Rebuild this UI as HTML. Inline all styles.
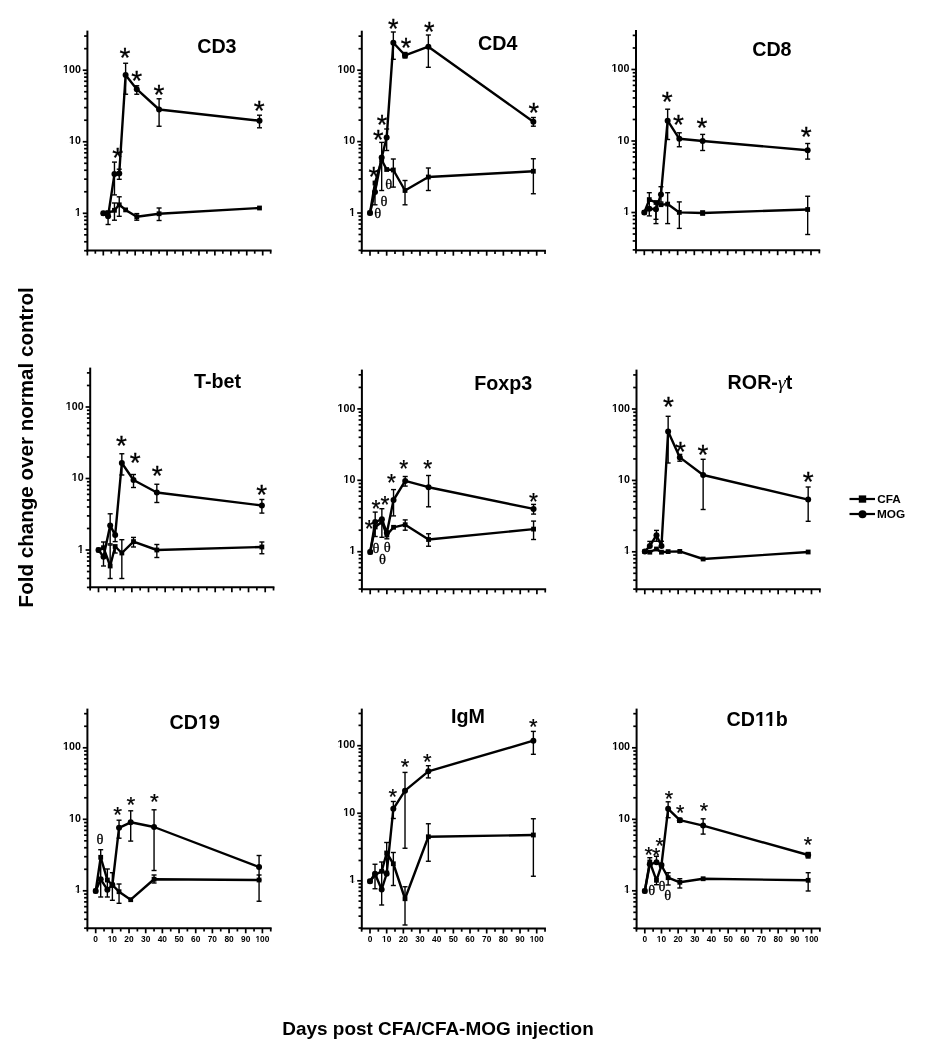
<!DOCTYPE html>
<html lang="en"><head><meta charset="utf-8"><title>Fold change over normal control</title><style>
html,body{margin:0;padding:0;background:#fff;}
#fig{position:relative;width:942px;height:1050px;overflow:hidden;background:#fff;filter:grayscale(1) blur(0.3px);}
#fig svg{position:absolute;left:0;top:0;}
#fig div{position:absolute;white-space:nowrap;font-family:'Liberation Sans',sans-serif;font-weight:bold;color:#000;}
</style></head>
<body><div id="fig"><svg width="942" height="1050" viewBox="0 0 942 1050"><g stroke="#000" fill="#000">
<line x1="87.40" y1="30.60" x2="87.40" y2="251.50" stroke-width="2.0"/>
<line x1="86.40" y1="250.50" x2="271.57" y2="250.50" stroke-width="2.0"/>
<line x1="84.10" y1="250.71" x2="87.40" y2="250.71" stroke-width="1.7"/>
<line x1="84.10" y1="241.77" x2="87.40" y2="241.77" stroke-width="1.7"/>
<line x1="84.10" y1="234.84" x2="87.40" y2="234.84" stroke-width="1.7"/>
<line x1="84.10" y1="229.17" x2="87.40" y2="229.17" stroke-width="1.7"/>
<line x1="84.10" y1="224.38" x2="87.40" y2="224.38" stroke-width="1.7"/>
<line x1="84.10" y1="220.23" x2="87.40" y2="220.23" stroke-width="1.7"/>
<line x1="84.10" y1="216.57" x2="87.40" y2="216.57" stroke-width="1.7"/>
<line x1="82.80" y1="213.30" x2="87.40" y2="213.30" stroke-width="1.7"/>
<line x1="84.10" y1="191.76" x2="87.40" y2="191.76" stroke-width="1.7"/>
<line x1="84.10" y1="179.16" x2="87.40" y2="179.16" stroke-width="1.7"/>
<line x1="84.10" y1="170.22" x2="87.40" y2="170.22" stroke-width="1.7"/>
<line x1="84.10" y1="163.29" x2="87.40" y2="163.29" stroke-width="1.7"/>
<line x1="84.10" y1="157.62" x2="87.40" y2="157.62" stroke-width="1.7"/>
<line x1="84.10" y1="152.83" x2="87.40" y2="152.83" stroke-width="1.7"/>
<line x1="84.10" y1="148.68" x2="87.40" y2="148.68" stroke-width="1.7"/>
<line x1="84.10" y1="145.02" x2="87.40" y2="145.02" stroke-width="1.7"/>
<line x1="82.80" y1="141.75" x2="87.40" y2="141.75" stroke-width="1.7"/>
<line x1="84.10" y1="120.21" x2="87.40" y2="120.21" stroke-width="1.7"/>
<line x1="84.10" y1="107.61" x2="87.40" y2="107.61" stroke-width="1.7"/>
<line x1="84.10" y1="98.67" x2="87.40" y2="98.67" stroke-width="1.7"/>
<line x1="84.10" y1="91.74" x2="87.40" y2="91.74" stroke-width="1.7"/>
<line x1="84.10" y1="86.07" x2="87.40" y2="86.07" stroke-width="1.7"/>
<line x1="84.10" y1="81.28" x2="87.40" y2="81.28" stroke-width="1.7"/>
<line x1="84.10" y1="77.13" x2="87.40" y2="77.13" stroke-width="1.7"/>
<line x1="84.10" y1="73.47" x2="87.40" y2="73.47" stroke-width="1.7"/>
<line x1="82.80" y1="70.20" x2="87.40" y2="70.20" stroke-width="1.7"/>
<line x1="84.10" y1="48.66" x2="87.40" y2="48.66" stroke-width="1.7"/>
<line x1="84.10" y1="36.06" x2="87.40" y2="36.06" stroke-width="1.7"/>
<line x1="87.36" y1="250.50" x2="87.36" y2="255.50" stroke-width="1.7"/>
<line x1="95.33" y1="250.50" x2="95.33" y2="253.70" stroke-width="1.7"/>
<line x1="103.30" y1="250.50" x2="103.30" y2="255.50" stroke-width="1.7"/>
<line x1="111.27" y1="250.50" x2="111.27" y2="253.70" stroke-width="1.7"/>
<line x1="119.24" y1="250.50" x2="119.24" y2="255.50" stroke-width="1.7"/>
<line x1="127.21" y1="250.50" x2="127.21" y2="253.70" stroke-width="1.7"/>
<line x1="135.18" y1="250.50" x2="135.18" y2="255.50" stroke-width="1.7"/>
<line x1="143.15" y1="250.50" x2="143.15" y2="253.70" stroke-width="1.7"/>
<line x1="151.12" y1="250.50" x2="151.12" y2="255.50" stroke-width="1.7"/>
<line x1="159.09" y1="250.50" x2="159.09" y2="253.70" stroke-width="1.7"/>
<line x1="167.06" y1="250.50" x2="167.06" y2="255.50" stroke-width="1.7"/>
<line x1="175.03" y1="250.50" x2="175.03" y2="253.70" stroke-width="1.7"/>
<line x1="183.00" y1="250.50" x2="183.00" y2="255.50" stroke-width="1.7"/>
<line x1="190.97" y1="250.50" x2="190.97" y2="253.70" stroke-width="1.7"/>
<line x1="198.94" y1="250.50" x2="198.94" y2="255.50" stroke-width="1.7"/>
<line x1="206.91" y1="250.50" x2="206.91" y2="253.70" stroke-width="1.7"/>
<line x1="214.88" y1="250.50" x2="214.88" y2="255.50" stroke-width="1.7"/>
<line x1="222.85" y1="250.50" x2="222.85" y2="253.70" stroke-width="1.7"/>
<line x1="230.82" y1="250.50" x2="230.82" y2="255.50" stroke-width="1.7"/>
<line x1="238.79" y1="250.50" x2="238.79" y2="253.70" stroke-width="1.7"/>
<line x1="246.76" y1="250.50" x2="246.76" y2="255.50" stroke-width="1.7"/>
<line x1="254.73" y1="250.50" x2="254.73" y2="253.70" stroke-width="1.7"/>
<line x1="262.70" y1="250.50" x2="262.70" y2="255.50" stroke-width="1.7"/>
<line x1="270.67" y1="250.50" x2="270.67" y2="253.70" stroke-width="1.7"/>
<line x1="361.80" y1="30.70" x2="361.80" y2="251.70" stroke-width="2.0"/>
<line x1="360.80" y1="250.70" x2="545.93" y2="250.70" stroke-width="2.0"/>
<line x1="358.50" y1="250.33" x2="361.80" y2="250.33" stroke-width="1.7"/>
<line x1="358.50" y1="241.41" x2="361.80" y2="241.41" stroke-width="1.7"/>
<line x1="358.50" y1="234.49" x2="361.80" y2="234.49" stroke-width="1.7"/>
<line x1="358.50" y1="228.84" x2="361.80" y2="228.84" stroke-width="1.7"/>
<line x1="358.50" y1="224.06" x2="361.80" y2="224.06" stroke-width="1.7"/>
<line x1="358.50" y1="219.92" x2="361.80" y2="219.92" stroke-width="1.7"/>
<line x1="358.50" y1="216.27" x2="361.80" y2="216.27" stroke-width="1.7"/>
<line x1="357.20" y1="213.00" x2="361.80" y2="213.00" stroke-width="1.7"/>
<line x1="358.50" y1="191.51" x2="361.80" y2="191.51" stroke-width="1.7"/>
<line x1="358.50" y1="178.93" x2="361.80" y2="178.93" stroke-width="1.7"/>
<line x1="358.50" y1="170.01" x2="361.80" y2="170.01" stroke-width="1.7"/>
<line x1="358.50" y1="163.09" x2="361.80" y2="163.09" stroke-width="1.7"/>
<line x1="358.50" y1="157.44" x2="361.80" y2="157.44" stroke-width="1.7"/>
<line x1="358.50" y1="152.66" x2="361.80" y2="152.66" stroke-width="1.7"/>
<line x1="358.50" y1="148.52" x2="361.80" y2="148.52" stroke-width="1.7"/>
<line x1="358.50" y1="144.87" x2="361.80" y2="144.87" stroke-width="1.7"/>
<line x1="357.20" y1="141.60" x2="361.80" y2="141.60" stroke-width="1.7"/>
<line x1="358.50" y1="120.11" x2="361.80" y2="120.11" stroke-width="1.7"/>
<line x1="358.50" y1="107.53" x2="361.80" y2="107.53" stroke-width="1.7"/>
<line x1="358.50" y1="98.61" x2="361.80" y2="98.61" stroke-width="1.7"/>
<line x1="358.50" y1="91.69" x2="361.80" y2="91.69" stroke-width="1.7"/>
<line x1="358.50" y1="86.04" x2="361.80" y2="86.04" stroke-width="1.7"/>
<line x1="358.50" y1="81.26" x2="361.80" y2="81.26" stroke-width="1.7"/>
<line x1="358.50" y1="77.12" x2="361.80" y2="77.12" stroke-width="1.7"/>
<line x1="358.50" y1="73.47" x2="361.80" y2="73.47" stroke-width="1.7"/>
<line x1="357.20" y1="70.20" x2="361.80" y2="70.20" stroke-width="1.7"/>
<line x1="358.50" y1="48.71" x2="361.80" y2="48.71" stroke-width="1.7"/>
<line x1="358.50" y1="36.13" x2="361.80" y2="36.13" stroke-width="1.7"/>
<line x1="361.67" y1="250.70" x2="361.67" y2="253.90" stroke-width="1.7"/>
<line x1="370.00" y1="250.70" x2="370.00" y2="255.70" stroke-width="1.7"/>
<line x1="378.33" y1="250.70" x2="378.33" y2="253.90" stroke-width="1.7"/>
<line x1="386.67" y1="250.70" x2="386.67" y2="255.70" stroke-width="1.7"/>
<line x1="395.00" y1="250.70" x2="395.00" y2="253.90" stroke-width="1.7"/>
<line x1="403.34" y1="250.70" x2="403.34" y2="255.70" stroke-width="1.7"/>
<line x1="411.68" y1="250.70" x2="411.68" y2="253.90" stroke-width="1.7"/>
<line x1="420.01" y1="250.70" x2="420.01" y2="255.70" stroke-width="1.7"/>
<line x1="428.35" y1="250.70" x2="428.35" y2="253.90" stroke-width="1.7"/>
<line x1="436.68" y1="250.70" x2="436.68" y2="255.70" stroke-width="1.7"/>
<line x1="445.01" y1="250.70" x2="445.01" y2="253.90" stroke-width="1.7"/>
<line x1="453.35" y1="250.70" x2="453.35" y2="255.70" stroke-width="1.7"/>
<line x1="461.69" y1="250.70" x2="461.69" y2="253.90" stroke-width="1.7"/>
<line x1="470.02" y1="250.70" x2="470.02" y2="255.70" stroke-width="1.7"/>
<line x1="478.36" y1="250.70" x2="478.36" y2="253.90" stroke-width="1.7"/>
<line x1="486.69" y1="250.70" x2="486.69" y2="255.70" stroke-width="1.7"/>
<line x1="495.02" y1="250.70" x2="495.02" y2="253.90" stroke-width="1.7"/>
<line x1="503.36" y1="250.70" x2="503.36" y2="255.70" stroke-width="1.7"/>
<line x1="511.69" y1="250.70" x2="511.69" y2="253.90" stroke-width="1.7"/>
<line x1="520.03" y1="250.70" x2="520.03" y2="255.70" stroke-width="1.7"/>
<line x1="528.37" y1="250.70" x2="528.37" y2="253.90" stroke-width="1.7"/>
<line x1="536.70" y1="250.70" x2="536.70" y2="255.70" stroke-width="1.7"/>
<line x1="545.03" y1="250.70" x2="545.03" y2="253.90" stroke-width="1.7"/>
<line x1="636.00" y1="30.10" x2="636.00" y2="251.20" stroke-width="2.0"/>
<line x1="635.00" y1="250.20" x2="820.23" y2="250.20" stroke-width="2.0"/>
<line x1="632.70" y1="249.89" x2="636.00" y2="249.89" stroke-width="1.7"/>
<line x1="632.70" y1="240.95" x2="636.00" y2="240.95" stroke-width="1.7"/>
<line x1="632.70" y1="234.02" x2="636.00" y2="234.02" stroke-width="1.7"/>
<line x1="632.70" y1="228.36" x2="636.00" y2="228.36" stroke-width="1.7"/>
<line x1="632.70" y1="223.58" x2="636.00" y2="223.58" stroke-width="1.7"/>
<line x1="632.70" y1="219.43" x2="636.00" y2="219.43" stroke-width="1.7"/>
<line x1="632.70" y1="215.77" x2="636.00" y2="215.77" stroke-width="1.7"/>
<line x1="631.40" y1="212.50" x2="636.00" y2="212.50" stroke-width="1.7"/>
<line x1="632.70" y1="190.98" x2="636.00" y2="190.98" stroke-width="1.7"/>
<line x1="632.70" y1="178.39" x2="636.00" y2="178.39" stroke-width="1.7"/>
<line x1="632.70" y1="169.45" x2="636.00" y2="169.45" stroke-width="1.7"/>
<line x1="632.70" y1="162.52" x2="636.00" y2="162.52" stroke-width="1.7"/>
<line x1="632.70" y1="156.86" x2="636.00" y2="156.86" stroke-width="1.7"/>
<line x1="632.70" y1="152.08" x2="636.00" y2="152.08" stroke-width="1.7"/>
<line x1="632.70" y1="147.93" x2="636.00" y2="147.93" stroke-width="1.7"/>
<line x1="632.70" y1="144.27" x2="636.00" y2="144.27" stroke-width="1.7"/>
<line x1="631.40" y1="141.00" x2="636.00" y2="141.00" stroke-width="1.7"/>
<line x1="632.70" y1="119.48" x2="636.00" y2="119.48" stroke-width="1.7"/>
<line x1="632.70" y1="106.89" x2="636.00" y2="106.89" stroke-width="1.7"/>
<line x1="632.70" y1="97.95" x2="636.00" y2="97.95" stroke-width="1.7"/>
<line x1="632.70" y1="91.02" x2="636.00" y2="91.02" stroke-width="1.7"/>
<line x1="632.70" y1="85.36" x2="636.00" y2="85.36" stroke-width="1.7"/>
<line x1="632.70" y1="80.58" x2="636.00" y2="80.58" stroke-width="1.7"/>
<line x1="632.70" y1="76.43" x2="636.00" y2="76.43" stroke-width="1.7"/>
<line x1="632.70" y1="72.77" x2="636.00" y2="72.77" stroke-width="1.7"/>
<line x1="631.40" y1="69.50" x2="636.00" y2="69.50" stroke-width="1.7"/>
<line x1="632.70" y1="47.98" x2="636.00" y2="47.98" stroke-width="1.7"/>
<line x1="632.70" y1="35.39" x2="636.00" y2="35.39" stroke-width="1.7"/>
<line x1="635.96" y1="250.20" x2="635.96" y2="253.40" stroke-width="1.7"/>
<line x1="644.30" y1="250.20" x2="644.30" y2="255.20" stroke-width="1.7"/>
<line x1="652.63" y1="250.20" x2="652.63" y2="253.40" stroke-width="1.7"/>
<line x1="660.97" y1="250.20" x2="660.97" y2="255.20" stroke-width="1.7"/>
<line x1="669.30" y1="250.20" x2="669.30" y2="253.40" stroke-width="1.7"/>
<line x1="677.64" y1="250.20" x2="677.64" y2="255.20" stroke-width="1.7"/>
<line x1="685.97" y1="250.20" x2="685.97" y2="253.40" stroke-width="1.7"/>
<line x1="694.31" y1="250.20" x2="694.31" y2="255.20" stroke-width="1.7"/>
<line x1="702.64" y1="250.20" x2="702.64" y2="253.40" stroke-width="1.7"/>
<line x1="710.98" y1="250.20" x2="710.98" y2="255.20" stroke-width="1.7"/>
<line x1="719.31" y1="250.20" x2="719.31" y2="253.40" stroke-width="1.7"/>
<line x1="727.65" y1="250.20" x2="727.65" y2="255.20" stroke-width="1.7"/>
<line x1="735.98" y1="250.20" x2="735.98" y2="253.40" stroke-width="1.7"/>
<line x1="744.32" y1="250.20" x2="744.32" y2="255.20" stroke-width="1.7"/>
<line x1="752.65" y1="250.20" x2="752.65" y2="253.40" stroke-width="1.7"/>
<line x1="760.99" y1="250.20" x2="760.99" y2="255.20" stroke-width="1.7"/>
<line x1="769.32" y1="250.20" x2="769.32" y2="253.40" stroke-width="1.7"/>
<line x1="777.66" y1="250.20" x2="777.66" y2="255.20" stroke-width="1.7"/>
<line x1="785.99" y1="250.20" x2="785.99" y2="253.40" stroke-width="1.7"/>
<line x1="794.33" y1="250.20" x2="794.33" y2="255.20" stroke-width="1.7"/>
<line x1="802.66" y1="250.20" x2="802.66" y2="253.40" stroke-width="1.7"/>
<line x1="811.00" y1="250.20" x2="811.00" y2="255.20" stroke-width="1.7"/>
<line x1="819.33" y1="250.20" x2="819.33" y2="253.40" stroke-width="1.7"/>
<line x1="90.20" y1="367.60" x2="90.20" y2="588.30" stroke-width="2.0"/>
<line x1="89.20" y1="587.30" x2="274.43" y2="587.30" stroke-width="2.0"/>
<line x1="86.90" y1="587.39" x2="90.20" y2="587.39" stroke-width="1.7"/>
<line x1="86.90" y1="578.45" x2="90.20" y2="578.45" stroke-width="1.7"/>
<line x1="86.90" y1="571.52" x2="90.20" y2="571.52" stroke-width="1.7"/>
<line x1="86.90" y1="565.86" x2="90.20" y2="565.86" stroke-width="1.7"/>
<line x1="86.90" y1="561.08" x2="90.20" y2="561.08" stroke-width="1.7"/>
<line x1="86.90" y1="556.93" x2="90.20" y2="556.93" stroke-width="1.7"/>
<line x1="86.90" y1="553.27" x2="90.20" y2="553.27" stroke-width="1.7"/>
<line x1="85.60" y1="550.00" x2="90.20" y2="550.00" stroke-width="1.7"/>
<line x1="86.90" y1="528.48" x2="90.20" y2="528.48" stroke-width="1.7"/>
<line x1="86.90" y1="515.89" x2="90.20" y2="515.89" stroke-width="1.7"/>
<line x1="86.90" y1="506.95" x2="90.20" y2="506.95" stroke-width="1.7"/>
<line x1="86.90" y1="500.02" x2="90.20" y2="500.02" stroke-width="1.7"/>
<line x1="86.90" y1="494.36" x2="90.20" y2="494.36" stroke-width="1.7"/>
<line x1="86.90" y1="489.58" x2="90.20" y2="489.58" stroke-width="1.7"/>
<line x1="86.90" y1="485.43" x2="90.20" y2="485.43" stroke-width="1.7"/>
<line x1="86.90" y1="481.77" x2="90.20" y2="481.77" stroke-width="1.7"/>
<line x1="85.60" y1="478.50" x2="90.20" y2="478.50" stroke-width="1.7"/>
<line x1="86.90" y1="456.98" x2="90.20" y2="456.98" stroke-width="1.7"/>
<line x1="86.90" y1="444.39" x2="90.20" y2="444.39" stroke-width="1.7"/>
<line x1="86.90" y1="435.45" x2="90.20" y2="435.45" stroke-width="1.7"/>
<line x1="86.90" y1="428.52" x2="90.20" y2="428.52" stroke-width="1.7"/>
<line x1="86.90" y1="422.86" x2="90.20" y2="422.86" stroke-width="1.7"/>
<line x1="86.90" y1="418.08" x2="90.20" y2="418.08" stroke-width="1.7"/>
<line x1="86.90" y1="413.93" x2="90.20" y2="413.93" stroke-width="1.7"/>
<line x1="86.90" y1="410.27" x2="90.20" y2="410.27" stroke-width="1.7"/>
<line x1="85.60" y1="407.00" x2="90.20" y2="407.00" stroke-width="1.7"/>
<line x1="86.90" y1="385.48" x2="90.20" y2="385.48" stroke-width="1.7"/>
<line x1="86.90" y1="372.89" x2="90.20" y2="372.89" stroke-width="1.7"/>
<line x1="90.16" y1="587.30" x2="90.16" y2="590.50" stroke-width="1.7"/>
<line x1="98.50" y1="587.30" x2="98.50" y2="592.30" stroke-width="1.7"/>
<line x1="106.84" y1="587.30" x2="106.84" y2="590.50" stroke-width="1.7"/>
<line x1="115.17" y1="587.30" x2="115.17" y2="592.30" stroke-width="1.7"/>
<line x1="123.50" y1="587.30" x2="123.50" y2="590.50" stroke-width="1.7"/>
<line x1="131.84" y1="587.30" x2="131.84" y2="592.30" stroke-width="1.7"/>
<line x1="140.18" y1="587.30" x2="140.18" y2="590.50" stroke-width="1.7"/>
<line x1="148.51" y1="587.30" x2="148.51" y2="592.30" stroke-width="1.7"/>
<line x1="156.84" y1="587.30" x2="156.84" y2="590.50" stroke-width="1.7"/>
<line x1="165.18" y1="587.30" x2="165.18" y2="592.30" stroke-width="1.7"/>
<line x1="173.51" y1="587.30" x2="173.51" y2="590.50" stroke-width="1.7"/>
<line x1="181.85" y1="587.30" x2="181.85" y2="592.30" stroke-width="1.7"/>
<line x1="190.19" y1="587.30" x2="190.19" y2="590.50" stroke-width="1.7"/>
<line x1="198.52" y1="587.30" x2="198.52" y2="592.30" stroke-width="1.7"/>
<line x1="206.86" y1="587.30" x2="206.86" y2="590.50" stroke-width="1.7"/>
<line x1="215.19" y1="587.30" x2="215.19" y2="592.30" stroke-width="1.7"/>
<line x1="223.53" y1="587.30" x2="223.53" y2="590.50" stroke-width="1.7"/>
<line x1="231.86" y1="587.30" x2="231.86" y2="592.30" stroke-width="1.7"/>
<line x1="240.19" y1="587.30" x2="240.19" y2="590.50" stroke-width="1.7"/>
<line x1="248.53" y1="587.30" x2="248.53" y2="592.30" stroke-width="1.7"/>
<line x1="256.87" y1="587.30" x2="256.87" y2="590.50" stroke-width="1.7"/>
<line x1="265.20" y1="587.30" x2="265.20" y2="592.30" stroke-width="1.7"/>
<line x1="273.53" y1="587.30" x2="273.53" y2="590.50" stroke-width="1.7"/>
<line x1="361.90" y1="369.60" x2="361.90" y2="590.30" stroke-width="2.0"/>
<line x1="360.90" y1="589.30" x2="546.13" y2="589.30" stroke-width="2.0"/>
<line x1="358.60" y1="589.03" x2="361.90" y2="589.03" stroke-width="1.7"/>
<line x1="358.60" y1="580.11" x2="361.90" y2="580.11" stroke-width="1.7"/>
<line x1="358.60" y1="573.19" x2="361.90" y2="573.19" stroke-width="1.7"/>
<line x1="358.60" y1="567.54" x2="361.90" y2="567.54" stroke-width="1.7"/>
<line x1="358.60" y1="562.76" x2="361.90" y2="562.76" stroke-width="1.7"/>
<line x1="358.60" y1="558.62" x2="361.90" y2="558.62" stroke-width="1.7"/>
<line x1="358.60" y1="554.97" x2="361.90" y2="554.97" stroke-width="1.7"/>
<line x1="357.30" y1="551.70" x2="361.90" y2="551.70" stroke-width="1.7"/>
<line x1="358.60" y1="530.21" x2="361.90" y2="530.21" stroke-width="1.7"/>
<line x1="358.60" y1="517.63" x2="361.90" y2="517.63" stroke-width="1.7"/>
<line x1="358.60" y1="508.71" x2="361.90" y2="508.71" stroke-width="1.7"/>
<line x1="358.60" y1="501.79" x2="361.90" y2="501.79" stroke-width="1.7"/>
<line x1="358.60" y1="496.14" x2="361.90" y2="496.14" stroke-width="1.7"/>
<line x1="358.60" y1="491.36" x2="361.90" y2="491.36" stroke-width="1.7"/>
<line x1="358.60" y1="487.22" x2="361.90" y2="487.22" stroke-width="1.7"/>
<line x1="358.60" y1="483.57" x2="361.90" y2="483.57" stroke-width="1.7"/>
<line x1="357.30" y1="480.30" x2="361.90" y2="480.30" stroke-width="1.7"/>
<line x1="358.60" y1="458.81" x2="361.90" y2="458.81" stroke-width="1.7"/>
<line x1="358.60" y1="446.23" x2="361.90" y2="446.23" stroke-width="1.7"/>
<line x1="358.60" y1="437.31" x2="361.90" y2="437.31" stroke-width="1.7"/>
<line x1="358.60" y1="430.39" x2="361.90" y2="430.39" stroke-width="1.7"/>
<line x1="358.60" y1="424.74" x2="361.90" y2="424.74" stroke-width="1.7"/>
<line x1="358.60" y1="419.96" x2="361.90" y2="419.96" stroke-width="1.7"/>
<line x1="358.60" y1="415.82" x2="361.90" y2="415.82" stroke-width="1.7"/>
<line x1="358.60" y1="412.17" x2="361.90" y2="412.17" stroke-width="1.7"/>
<line x1="357.30" y1="408.90" x2="361.90" y2="408.90" stroke-width="1.7"/>
<line x1="358.60" y1="387.41" x2="361.90" y2="387.41" stroke-width="1.7"/>
<line x1="358.60" y1="374.83" x2="361.90" y2="374.83" stroke-width="1.7"/>
<line x1="361.87" y1="589.30" x2="361.87" y2="592.50" stroke-width="1.7"/>
<line x1="370.20" y1="589.30" x2="370.20" y2="594.30" stroke-width="1.7"/>
<line x1="378.53" y1="589.30" x2="378.53" y2="592.50" stroke-width="1.7"/>
<line x1="386.87" y1="589.30" x2="386.87" y2="594.30" stroke-width="1.7"/>
<line x1="395.20" y1="589.30" x2="395.20" y2="592.50" stroke-width="1.7"/>
<line x1="403.54" y1="589.30" x2="403.54" y2="594.30" stroke-width="1.7"/>
<line x1="411.88" y1="589.30" x2="411.88" y2="592.50" stroke-width="1.7"/>
<line x1="420.21" y1="589.30" x2="420.21" y2="594.30" stroke-width="1.7"/>
<line x1="428.54" y1="589.30" x2="428.54" y2="592.50" stroke-width="1.7"/>
<line x1="436.88" y1="589.30" x2="436.88" y2="594.30" stroke-width="1.7"/>
<line x1="445.21" y1="589.30" x2="445.21" y2="592.50" stroke-width="1.7"/>
<line x1="453.55" y1="589.30" x2="453.55" y2="594.30" stroke-width="1.7"/>
<line x1="461.88" y1="589.30" x2="461.88" y2="592.50" stroke-width="1.7"/>
<line x1="470.22" y1="589.30" x2="470.22" y2="594.30" stroke-width="1.7"/>
<line x1="478.56" y1="589.30" x2="478.56" y2="592.50" stroke-width="1.7"/>
<line x1="486.89" y1="589.30" x2="486.89" y2="594.30" stroke-width="1.7"/>
<line x1="495.23" y1="589.30" x2="495.23" y2="592.50" stroke-width="1.7"/>
<line x1="503.56" y1="589.30" x2="503.56" y2="594.30" stroke-width="1.7"/>
<line x1="511.89" y1="589.30" x2="511.89" y2="592.50" stroke-width="1.7"/>
<line x1="520.23" y1="589.30" x2="520.23" y2="594.30" stroke-width="1.7"/>
<line x1="528.57" y1="589.30" x2="528.57" y2="592.50" stroke-width="1.7"/>
<line x1="536.90" y1="589.30" x2="536.90" y2="594.30" stroke-width="1.7"/>
<line x1="545.24" y1="589.30" x2="545.24" y2="592.50" stroke-width="1.7"/>
<line x1="636.50" y1="369.60" x2="636.50" y2="590.30" stroke-width="2.0"/>
<line x1="635.50" y1="589.30" x2="820.73" y2="589.30" stroke-width="2.0"/>
<line x1="633.20" y1="589.13" x2="636.50" y2="589.13" stroke-width="1.7"/>
<line x1="633.20" y1="580.21" x2="636.50" y2="580.21" stroke-width="1.7"/>
<line x1="633.20" y1="573.29" x2="636.50" y2="573.29" stroke-width="1.7"/>
<line x1="633.20" y1="567.64" x2="636.50" y2="567.64" stroke-width="1.7"/>
<line x1="633.20" y1="562.86" x2="636.50" y2="562.86" stroke-width="1.7"/>
<line x1="633.20" y1="558.72" x2="636.50" y2="558.72" stroke-width="1.7"/>
<line x1="633.20" y1="555.07" x2="636.50" y2="555.07" stroke-width="1.7"/>
<line x1="631.90" y1="551.80" x2="636.50" y2="551.80" stroke-width="1.7"/>
<line x1="633.20" y1="530.31" x2="636.50" y2="530.31" stroke-width="1.7"/>
<line x1="633.20" y1="517.73" x2="636.50" y2="517.73" stroke-width="1.7"/>
<line x1="633.20" y1="508.81" x2="636.50" y2="508.81" stroke-width="1.7"/>
<line x1="633.20" y1="501.89" x2="636.50" y2="501.89" stroke-width="1.7"/>
<line x1="633.20" y1="496.24" x2="636.50" y2="496.24" stroke-width="1.7"/>
<line x1="633.20" y1="491.46" x2="636.50" y2="491.46" stroke-width="1.7"/>
<line x1="633.20" y1="487.32" x2="636.50" y2="487.32" stroke-width="1.7"/>
<line x1="633.20" y1="483.67" x2="636.50" y2="483.67" stroke-width="1.7"/>
<line x1="631.90" y1="480.40" x2="636.50" y2="480.40" stroke-width="1.7"/>
<line x1="633.20" y1="458.91" x2="636.50" y2="458.91" stroke-width="1.7"/>
<line x1="633.20" y1="446.33" x2="636.50" y2="446.33" stroke-width="1.7"/>
<line x1="633.20" y1="437.41" x2="636.50" y2="437.41" stroke-width="1.7"/>
<line x1="633.20" y1="430.49" x2="636.50" y2="430.49" stroke-width="1.7"/>
<line x1="633.20" y1="424.84" x2="636.50" y2="424.84" stroke-width="1.7"/>
<line x1="633.20" y1="420.06" x2="636.50" y2="420.06" stroke-width="1.7"/>
<line x1="633.20" y1="415.92" x2="636.50" y2="415.92" stroke-width="1.7"/>
<line x1="633.20" y1="412.27" x2="636.50" y2="412.27" stroke-width="1.7"/>
<line x1="631.90" y1="409.00" x2="636.50" y2="409.00" stroke-width="1.7"/>
<line x1="633.20" y1="387.51" x2="636.50" y2="387.51" stroke-width="1.7"/>
<line x1="633.20" y1="374.93" x2="636.50" y2="374.93" stroke-width="1.7"/>
<line x1="636.46" y1="589.30" x2="636.46" y2="592.50" stroke-width="1.7"/>
<line x1="644.80" y1="589.30" x2="644.80" y2="594.30" stroke-width="1.7"/>
<line x1="653.13" y1="589.30" x2="653.13" y2="592.50" stroke-width="1.7"/>
<line x1="661.47" y1="589.30" x2="661.47" y2="594.30" stroke-width="1.7"/>
<line x1="669.80" y1="589.30" x2="669.80" y2="592.50" stroke-width="1.7"/>
<line x1="678.14" y1="589.30" x2="678.14" y2="594.30" stroke-width="1.7"/>
<line x1="686.47" y1="589.30" x2="686.47" y2="592.50" stroke-width="1.7"/>
<line x1="694.81" y1="589.30" x2="694.81" y2="594.30" stroke-width="1.7"/>
<line x1="703.14" y1="589.30" x2="703.14" y2="592.50" stroke-width="1.7"/>
<line x1="711.48" y1="589.30" x2="711.48" y2="594.30" stroke-width="1.7"/>
<line x1="719.81" y1="589.30" x2="719.81" y2="592.50" stroke-width="1.7"/>
<line x1="728.15" y1="589.30" x2="728.15" y2="594.30" stroke-width="1.7"/>
<line x1="736.48" y1="589.30" x2="736.48" y2="592.50" stroke-width="1.7"/>
<line x1="744.82" y1="589.30" x2="744.82" y2="594.30" stroke-width="1.7"/>
<line x1="753.15" y1="589.30" x2="753.15" y2="592.50" stroke-width="1.7"/>
<line x1="761.49" y1="589.30" x2="761.49" y2="594.30" stroke-width="1.7"/>
<line x1="769.82" y1="589.30" x2="769.82" y2="592.50" stroke-width="1.7"/>
<line x1="778.16" y1="589.30" x2="778.16" y2="594.30" stroke-width="1.7"/>
<line x1="786.49" y1="589.30" x2="786.49" y2="592.50" stroke-width="1.7"/>
<line x1="794.83" y1="589.30" x2="794.83" y2="594.30" stroke-width="1.7"/>
<line x1="803.16" y1="589.30" x2="803.16" y2="592.50" stroke-width="1.7"/>
<line x1="811.50" y1="589.30" x2="811.50" y2="594.30" stroke-width="1.7"/>
<line x1="819.83" y1="589.30" x2="819.83" y2="592.50" stroke-width="1.7"/>
<line x1="87.40" y1="708.60" x2="87.40" y2="929.30" stroke-width="2.0"/>
<line x1="86.40" y1="928.30" x2="271.63" y2="928.30" stroke-width="2.0"/>
<line x1="84.10" y1="928.19" x2="87.40" y2="928.19" stroke-width="1.7"/>
<line x1="84.10" y1="919.25" x2="87.40" y2="919.25" stroke-width="1.7"/>
<line x1="84.10" y1="912.32" x2="87.40" y2="912.32" stroke-width="1.7"/>
<line x1="84.10" y1="906.66" x2="87.40" y2="906.66" stroke-width="1.7"/>
<line x1="84.10" y1="901.88" x2="87.40" y2="901.88" stroke-width="1.7"/>
<line x1="84.10" y1="897.73" x2="87.40" y2="897.73" stroke-width="1.7"/>
<line x1="84.10" y1="894.07" x2="87.40" y2="894.07" stroke-width="1.7"/>
<line x1="82.80" y1="890.80" x2="87.40" y2="890.80" stroke-width="1.7"/>
<line x1="84.10" y1="869.28" x2="87.40" y2="869.28" stroke-width="1.7"/>
<line x1="84.10" y1="856.69" x2="87.40" y2="856.69" stroke-width="1.7"/>
<line x1="84.10" y1="847.75" x2="87.40" y2="847.75" stroke-width="1.7"/>
<line x1="84.10" y1="840.82" x2="87.40" y2="840.82" stroke-width="1.7"/>
<line x1="84.10" y1="835.16" x2="87.40" y2="835.16" stroke-width="1.7"/>
<line x1="84.10" y1="830.38" x2="87.40" y2="830.38" stroke-width="1.7"/>
<line x1="84.10" y1="826.23" x2="87.40" y2="826.23" stroke-width="1.7"/>
<line x1="84.10" y1="822.57" x2="87.40" y2="822.57" stroke-width="1.7"/>
<line x1="82.80" y1="819.30" x2="87.40" y2="819.30" stroke-width="1.7"/>
<line x1="84.10" y1="797.78" x2="87.40" y2="797.78" stroke-width="1.7"/>
<line x1="84.10" y1="785.19" x2="87.40" y2="785.19" stroke-width="1.7"/>
<line x1="84.10" y1="776.25" x2="87.40" y2="776.25" stroke-width="1.7"/>
<line x1="84.10" y1="769.32" x2="87.40" y2="769.32" stroke-width="1.7"/>
<line x1="84.10" y1="763.66" x2="87.40" y2="763.66" stroke-width="1.7"/>
<line x1="84.10" y1="758.88" x2="87.40" y2="758.88" stroke-width="1.7"/>
<line x1="84.10" y1="754.73" x2="87.40" y2="754.73" stroke-width="1.7"/>
<line x1="84.10" y1="751.07" x2="87.40" y2="751.07" stroke-width="1.7"/>
<line x1="82.80" y1="747.80" x2="87.40" y2="747.80" stroke-width="1.7"/>
<line x1="84.10" y1="726.28" x2="87.40" y2="726.28" stroke-width="1.7"/>
<line x1="84.10" y1="713.69" x2="87.40" y2="713.69" stroke-width="1.7"/>
<line x1="87.37" y1="928.30" x2="87.37" y2="931.50" stroke-width="1.7"/>
<line x1="95.70" y1="928.30" x2="95.70" y2="933.30" stroke-width="1.7"/>
<line x1="104.03" y1="928.30" x2="104.03" y2="931.50" stroke-width="1.7"/>
<line x1="112.37" y1="928.30" x2="112.37" y2="933.30" stroke-width="1.7"/>
<line x1="120.70" y1="928.30" x2="120.70" y2="931.50" stroke-width="1.7"/>
<line x1="129.04" y1="928.30" x2="129.04" y2="933.30" stroke-width="1.7"/>
<line x1="137.38" y1="928.30" x2="137.38" y2="931.50" stroke-width="1.7"/>
<line x1="145.71" y1="928.30" x2="145.71" y2="933.30" stroke-width="1.7"/>
<line x1="154.05" y1="928.30" x2="154.05" y2="931.50" stroke-width="1.7"/>
<line x1="162.38" y1="928.30" x2="162.38" y2="933.30" stroke-width="1.7"/>
<line x1="170.72" y1="928.30" x2="170.72" y2="931.50" stroke-width="1.7"/>
<line x1="179.05" y1="928.30" x2="179.05" y2="933.30" stroke-width="1.7"/>
<line x1="187.38" y1="928.30" x2="187.38" y2="931.50" stroke-width="1.7"/>
<line x1="195.72" y1="928.30" x2="195.72" y2="933.30" stroke-width="1.7"/>
<line x1="204.06" y1="928.30" x2="204.06" y2="931.50" stroke-width="1.7"/>
<line x1="212.39" y1="928.30" x2="212.39" y2="933.30" stroke-width="1.7"/>
<line x1="220.73" y1="928.30" x2="220.73" y2="931.50" stroke-width="1.7"/>
<line x1="229.06" y1="928.30" x2="229.06" y2="933.30" stroke-width="1.7"/>
<line x1="237.39" y1="928.30" x2="237.39" y2="931.50" stroke-width="1.7"/>
<line x1="245.73" y1="928.30" x2="245.73" y2="933.30" stroke-width="1.7"/>
<line x1="254.06" y1="928.30" x2="254.06" y2="931.50" stroke-width="1.7"/>
<line x1="262.40" y1="928.30" x2="262.40" y2="933.30" stroke-width="1.7"/>
<line x1="270.74" y1="928.30" x2="270.74" y2="931.50" stroke-width="1.7"/>
<line x1="361.80" y1="708.60" x2="361.80" y2="929.50" stroke-width="2.0"/>
<line x1="360.80" y1="928.50" x2="545.93" y2="928.50" stroke-width="2.0"/>
<line x1="358.50" y1="928.02" x2="361.80" y2="928.02" stroke-width="1.7"/>
<line x1="358.50" y1="916.12" x2="361.80" y2="916.12" stroke-width="1.7"/>
<line x1="358.50" y1="907.68" x2="361.80" y2="907.68" stroke-width="1.7"/>
<line x1="358.50" y1="901.13" x2="361.80" y2="901.13" stroke-width="1.7"/>
<line x1="358.50" y1="895.79" x2="361.80" y2="895.79" stroke-width="1.7"/>
<line x1="358.50" y1="891.26" x2="361.80" y2="891.26" stroke-width="1.7"/>
<line x1="358.50" y1="887.35" x2="361.80" y2="887.35" stroke-width="1.7"/>
<line x1="358.50" y1="883.89" x2="361.80" y2="883.89" stroke-width="1.7"/>
<line x1="357.20" y1="880.80" x2="361.80" y2="880.80" stroke-width="1.7"/>
<line x1="358.50" y1="860.47" x2="361.80" y2="860.47" stroke-width="1.7"/>
<line x1="358.50" y1="848.57" x2="361.80" y2="848.57" stroke-width="1.7"/>
<line x1="358.50" y1="840.13" x2="361.80" y2="840.13" stroke-width="1.7"/>
<line x1="358.50" y1="833.58" x2="361.80" y2="833.58" stroke-width="1.7"/>
<line x1="358.50" y1="828.24" x2="361.80" y2="828.24" stroke-width="1.7"/>
<line x1="358.50" y1="823.71" x2="361.80" y2="823.71" stroke-width="1.7"/>
<line x1="358.50" y1="819.80" x2="361.80" y2="819.80" stroke-width="1.7"/>
<line x1="358.50" y1="816.34" x2="361.80" y2="816.34" stroke-width="1.7"/>
<line x1="357.20" y1="813.25" x2="361.80" y2="813.25" stroke-width="1.7"/>
<line x1="358.50" y1="792.92" x2="361.80" y2="792.92" stroke-width="1.7"/>
<line x1="358.50" y1="781.02" x2="361.80" y2="781.02" stroke-width="1.7"/>
<line x1="358.50" y1="772.58" x2="361.80" y2="772.58" stroke-width="1.7"/>
<line x1="358.50" y1="766.03" x2="361.80" y2="766.03" stroke-width="1.7"/>
<line x1="358.50" y1="760.69" x2="361.80" y2="760.69" stroke-width="1.7"/>
<line x1="358.50" y1="756.16" x2="361.80" y2="756.16" stroke-width="1.7"/>
<line x1="358.50" y1="752.25" x2="361.80" y2="752.25" stroke-width="1.7"/>
<line x1="358.50" y1="748.79" x2="361.80" y2="748.79" stroke-width="1.7"/>
<line x1="357.20" y1="745.70" x2="361.80" y2="745.70" stroke-width="1.7"/>
<line x1="358.50" y1="725.37" x2="361.80" y2="725.37" stroke-width="1.7"/>
<line x1="358.50" y1="713.47" x2="361.80" y2="713.47" stroke-width="1.7"/>
<line x1="361.67" y1="928.50" x2="361.67" y2="931.70" stroke-width="1.7"/>
<line x1="370.00" y1="928.50" x2="370.00" y2="933.50" stroke-width="1.7"/>
<line x1="378.33" y1="928.50" x2="378.33" y2="931.70" stroke-width="1.7"/>
<line x1="386.67" y1="928.50" x2="386.67" y2="933.50" stroke-width="1.7"/>
<line x1="395.00" y1="928.50" x2="395.00" y2="931.70" stroke-width="1.7"/>
<line x1="403.34" y1="928.50" x2="403.34" y2="933.50" stroke-width="1.7"/>
<line x1="411.68" y1="928.50" x2="411.68" y2="931.70" stroke-width="1.7"/>
<line x1="420.01" y1="928.50" x2="420.01" y2="933.50" stroke-width="1.7"/>
<line x1="428.35" y1="928.50" x2="428.35" y2="931.70" stroke-width="1.7"/>
<line x1="436.68" y1="928.50" x2="436.68" y2="933.50" stroke-width="1.7"/>
<line x1="445.01" y1="928.50" x2="445.01" y2="931.70" stroke-width="1.7"/>
<line x1="453.35" y1="928.50" x2="453.35" y2="933.50" stroke-width="1.7"/>
<line x1="461.69" y1="928.50" x2="461.69" y2="931.70" stroke-width="1.7"/>
<line x1="470.02" y1="928.50" x2="470.02" y2="933.50" stroke-width="1.7"/>
<line x1="478.36" y1="928.50" x2="478.36" y2="931.70" stroke-width="1.7"/>
<line x1="486.69" y1="928.50" x2="486.69" y2="933.50" stroke-width="1.7"/>
<line x1="495.02" y1="928.50" x2="495.02" y2="931.70" stroke-width="1.7"/>
<line x1="503.36" y1="928.50" x2="503.36" y2="933.50" stroke-width="1.7"/>
<line x1="511.69" y1="928.50" x2="511.69" y2="931.70" stroke-width="1.7"/>
<line x1="520.03" y1="928.50" x2="520.03" y2="933.50" stroke-width="1.7"/>
<line x1="528.37" y1="928.50" x2="528.37" y2="931.70" stroke-width="1.7"/>
<line x1="536.70" y1="928.50" x2="536.70" y2="933.50" stroke-width="1.7"/>
<line x1="545.03" y1="928.50" x2="545.03" y2="931.70" stroke-width="1.7"/>
<line x1="636.60" y1="708.60" x2="636.60" y2="929.50" stroke-width="2.0"/>
<line x1="635.60" y1="928.50" x2="820.73" y2="928.50" stroke-width="2.0"/>
<line x1="633.30" y1="928.19" x2="636.60" y2="928.19" stroke-width="1.7"/>
<line x1="633.30" y1="919.25" x2="636.60" y2="919.25" stroke-width="1.7"/>
<line x1="633.30" y1="912.32" x2="636.60" y2="912.32" stroke-width="1.7"/>
<line x1="633.30" y1="906.66" x2="636.60" y2="906.66" stroke-width="1.7"/>
<line x1="633.30" y1="901.88" x2="636.60" y2="901.88" stroke-width="1.7"/>
<line x1="633.30" y1="897.73" x2="636.60" y2="897.73" stroke-width="1.7"/>
<line x1="633.30" y1="894.07" x2="636.60" y2="894.07" stroke-width="1.7"/>
<line x1="632.00" y1="890.80" x2="636.60" y2="890.80" stroke-width="1.7"/>
<line x1="633.30" y1="869.28" x2="636.60" y2="869.28" stroke-width="1.7"/>
<line x1="633.30" y1="856.69" x2="636.60" y2="856.69" stroke-width="1.7"/>
<line x1="633.30" y1="847.75" x2="636.60" y2="847.75" stroke-width="1.7"/>
<line x1="633.30" y1="840.82" x2="636.60" y2="840.82" stroke-width="1.7"/>
<line x1="633.30" y1="835.16" x2="636.60" y2="835.16" stroke-width="1.7"/>
<line x1="633.30" y1="830.38" x2="636.60" y2="830.38" stroke-width="1.7"/>
<line x1="633.30" y1="826.23" x2="636.60" y2="826.23" stroke-width="1.7"/>
<line x1="633.30" y1="822.57" x2="636.60" y2="822.57" stroke-width="1.7"/>
<line x1="632.00" y1="819.30" x2="636.60" y2="819.30" stroke-width="1.7"/>
<line x1="633.30" y1="797.78" x2="636.60" y2="797.78" stroke-width="1.7"/>
<line x1="633.30" y1="785.19" x2="636.60" y2="785.19" stroke-width="1.7"/>
<line x1="633.30" y1="776.25" x2="636.60" y2="776.25" stroke-width="1.7"/>
<line x1="633.30" y1="769.32" x2="636.60" y2="769.32" stroke-width="1.7"/>
<line x1="633.30" y1="763.66" x2="636.60" y2="763.66" stroke-width="1.7"/>
<line x1="633.30" y1="758.88" x2="636.60" y2="758.88" stroke-width="1.7"/>
<line x1="633.30" y1="754.73" x2="636.60" y2="754.73" stroke-width="1.7"/>
<line x1="633.30" y1="751.07" x2="636.60" y2="751.07" stroke-width="1.7"/>
<line x1="632.00" y1="747.80" x2="636.60" y2="747.80" stroke-width="1.7"/>
<line x1="633.30" y1="726.28" x2="636.60" y2="726.28" stroke-width="1.7"/>
<line x1="633.30" y1="713.69" x2="636.60" y2="713.69" stroke-width="1.7"/>
<line x1="636.46" y1="928.50" x2="636.46" y2="931.70" stroke-width="1.7"/>
<line x1="644.80" y1="928.50" x2="644.80" y2="933.50" stroke-width="1.7"/>
<line x1="653.13" y1="928.50" x2="653.13" y2="931.70" stroke-width="1.7"/>
<line x1="661.47" y1="928.50" x2="661.47" y2="933.50" stroke-width="1.7"/>
<line x1="669.80" y1="928.50" x2="669.80" y2="931.70" stroke-width="1.7"/>
<line x1="678.14" y1="928.50" x2="678.14" y2="933.50" stroke-width="1.7"/>
<line x1="686.47" y1="928.50" x2="686.47" y2="931.70" stroke-width="1.7"/>
<line x1="694.81" y1="928.50" x2="694.81" y2="933.50" stroke-width="1.7"/>
<line x1="703.14" y1="928.50" x2="703.14" y2="931.70" stroke-width="1.7"/>
<line x1="711.48" y1="928.50" x2="711.48" y2="933.50" stroke-width="1.7"/>
<line x1="719.81" y1="928.50" x2="719.81" y2="931.70" stroke-width="1.7"/>
<line x1="728.15" y1="928.50" x2="728.15" y2="933.50" stroke-width="1.7"/>
<line x1="736.48" y1="928.50" x2="736.48" y2="931.70" stroke-width="1.7"/>
<line x1="744.82" y1="928.50" x2="744.82" y2="933.50" stroke-width="1.7"/>
<line x1="753.15" y1="928.50" x2="753.15" y2="931.70" stroke-width="1.7"/>
<line x1="761.49" y1="928.50" x2="761.49" y2="933.50" stroke-width="1.7"/>
<line x1="769.82" y1="928.50" x2="769.82" y2="931.70" stroke-width="1.7"/>
<line x1="778.16" y1="928.50" x2="778.16" y2="933.50" stroke-width="1.7"/>
<line x1="786.49" y1="928.50" x2="786.49" y2="931.70" stroke-width="1.7"/>
<line x1="794.83" y1="928.50" x2="794.83" y2="933.50" stroke-width="1.7"/>
<line x1="803.16" y1="928.50" x2="803.16" y2="931.70" stroke-width="1.7"/>
<line x1="811.50" y1="928.50" x2="811.50" y2="933.50" stroke-width="1.7"/>
<line x1="819.83" y1="928.50" x2="819.83" y2="931.70" stroke-width="1.7"/>
<line x1="114.46" y1="210.30" x2="114.46" y2="203.00" stroke-width="1.4"/>
<line x1="111.96" y1="203.00" x2="116.96" y2="203.00" stroke-width="1.4"/>
<line x1="114.46" y1="210.30" x2="114.46" y2="220.20" stroke-width="1.4"/>
<line x1="111.96" y1="220.20" x2="116.96" y2="220.20" stroke-width="1.4"/>
<line x1="119.24" y1="204.80" x2="119.24" y2="196.80" stroke-width="1.4"/>
<line x1="116.74" y1="196.80" x2="121.74" y2="196.80" stroke-width="1.4"/>
<line x1="119.24" y1="204.80" x2="119.24" y2="216.30" stroke-width="1.4"/>
<line x1="116.74" y1="216.30" x2="121.74" y2="216.30" stroke-width="1.4"/>
<line x1="136.77" y1="216.80" x2="136.77" y2="213.60" stroke-width="1.4"/>
<line x1="134.27" y1="213.60" x2="139.27" y2="213.60" stroke-width="1.4"/>
<line x1="136.77" y1="216.80" x2="136.77" y2="220.20" stroke-width="1.4"/>
<line x1="134.27" y1="220.20" x2="139.27" y2="220.20" stroke-width="1.4"/>
<line x1="159.09" y1="213.75" x2="159.09" y2="208.00" stroke-width="1.4"/>
<line x1="156.59" y1="208.00" x2="161.59" y2="208.00" stroke-width="1.4"/>
<line x1="159.09" y1="213.75" x2="159.09" y2="220.50" stroke-width="1.4"/>
<line x1="156.59" y1="220.50" x2="161.59" y2="220.50" stroke-width="1.4"/>
<polyline fill="none" stroke-width="2.4" stroke-linejoin="round" points="103.30,213.30 108.08,213.00 114.46,210.30 119.24,204.80 125.62,209.90 136.77,216.80 159.09,213.75 259.51,208.00"/>
<rect x="100.90" y="210.90" width="4.8" height="4.8" stroke="none"/>
<rect x="105.68" y="210.60" width="4.8" height="4.8" stroke="none"/>
<rect x="112.06" y="207.90" width="4.8" height="4.8" stroke="none"/>
<rect x="116.84" y="202.40" width="4.8" height="4.8" stroke="none"/>
<rect x="123.22" y="207.50" width="4.8" height="4.8" stroke="none"/>
<rect x="134.37" y="214.40" width="4.8" height="4.8" stroke="none"/>
<rect x="156.69" y="211.35" width="4.8" height="4.8" stroke="none"/>
<rect x="257.11" y="205.60" width="4.8" height="4.8" stroke="none"/>
<line x1="108.08" y1="216.30" x2="108.08" y2="211.00" stroke-width="1.4"/>
<line x1="105.58" y1="211.00" x2="110.58" y2="211.00" stroke-width="1.4"/>
<line x1="108.08" y1="216.30" x2="108.08" y2="224.50" stroke-width="1.4"/>
<line x1="105.58" y1="224.50" x2="110.58" y2="224.50" stroke-width="1.4"/>
<line x1="114.46" y1="174.10" x2="114.46" y2="162.10" stroke-width="1.4"/>
<line x1="111.96" y1="162.10" x2="116.96" y2="162.10" stroke-width="1.4"/>
<line x1="114.46" y1="174.10" x2="114.46" y2="194.90" stroke-width="1.4"/>
<line x1="111.96" y1="194.90" x2="116.96" y2="194.90" stroke-width="1.4"/>
<line x1="119.24" y1="173.60" x2="119.24" y2="169.20" stroke-width="1.4"/>
<line x1="116.74" y1="169.20" x2="121.74" y2="169.20" stroke-width="1.4"/>
<line x1="119.24" y1="173.60" x2="119.24" y2="179.30" stroke-width="1.4"/>
<line x1="116.74" y1="179.30" x2="121.74" y2="179.30" stroke-width="1.4"/>
<line x1="125.62" y1="75.00" x2="125.62" y2="63.25" stroke-width="1.4"/>
<line x1="123.12" y1="63.25" x2="128.12" y2="63.25" stroke-width="1.4"/>
<line x1="125.62" y1="75.00" x2="125.62" y2="94.25" stroke-width="1.4"/>
<line x1="123.12" y1="94.25" x2="128.12" y2="94.25" stroke-width="1.4"/>
<line x1="136.77" y1="89.20" x2="136.77" y2="85.75" stroke-width="1.4"/>
<line x1="134.27" y1="85.75" x2="139.27" y2="85.75" stroke-width="1.4"/>
<line x1="136.77" y1="89.20" x2="136.77" y2="94.25" stroke-width="1.4"/>
<line x1="134.27" y1="94.25" x2="139.27" y2="94.25" stroke-width="1.4"/>
<line x1="159.09" y1="109.50" x2="159.09" y2="98.75" stroke-width="1.4"/>
<line x1="156.59" y1="98.75" x2="161.59" y2="98.75" stroke-width="1.4"/>
<line x1="159.09" y1="109.50" x2="159.09" y2="126.25" stroke-width="1.4"/>
<line x1="156.59" y1="126.25" x2="161.59" y2="126.25" stroke-width="1.4"/>
<line x1="259.51" y1="120.70" x2="259.51" y2="115.20" stroke-width="1.4"/>
<line x1="257.01" y1="115.20" x2="262.01" y2="115.20" stroke-width="1.4"/>
<line x1="259.51" y1="120.70" x2="259.51" y2="127.80" stroke-width="1.4"/>
<line x1="257.01" y1="127.80" x2="262.01" y2="127.80" stroke-width="1.4"/>
<polyline fill="none" stroke-width="2.4" stroke-linejoin="round" points="103.30,213.30 108.08,216.30 114.46,174.10 119.24,173.60 125.62,75.00 136.77,89.20 159.09,109.50 259.51,120.70"/>
<circle cx="103.30" cy="213.30" r="3.0" stroke="none"/>
<circle cx="108.08" cy="216.30" r="3.0" stroke="none"/>
<circle cx="114.46" cy="174.10" r="3.0" stroke="none"/>
<circle cx="119.24" cy="173.60" r="3.0" stroke="none"/>
<circle cx="125.62" cy="75.00" r="3.0" stroke="none"/>
<circle cx="136.77" cy="89.20" r="3.0" stroke="none"/>
<circle cx="159.09" cy="109.50" r="3.0" stroke="none"/>
<circle cx="259.51" cy="120.70" r="3.0" stroke="none"/>
<line x1="381.67" y1="160.00" x2="381.67" y2="142.40" stroke-width="1.4"/>
<line x1="379.17" y1="142.40" x2="384.17" y2="142.40" stroke-width="1.4"/>
<line x1="381.67" y1="160.00" x2="381.67" y2="190.50" stroke-width="1.4"/>
<line x1="379.17" y1="190.50" x2="384.17" y2="190.50" stroke-width="1.4"/>
<line x1="393.34" y1="170.00" x2="393.34" y2="159.00" stroke-width="1.4"/>
<line x1="390.84" y1="159.00" x2="395.84" y2="159.00" stroke-width="1.4"/>
<line x1="393.34" y1="170.00" x2="393.34" y2="187.10" stroke-width="1.4"/>
<line x1="390.84" y1="187.10" x2="395.84" y2="187.10" stroke-width="1.4"/>
<line x1="405.01" y1="190.50" x2="405.01" y2="180.50" stroke-width="1.4"/>
<line x1="402.51" y1="180.50" x2="407.51" y2="180.50" stroke-width="1.4"/>
<line x1="405.01" y1="190.50" x2="405.01" y2="204.80" stroke-width="1.4"/>
<line x1="402.51" y1="204.80" x2="407.51" y2="204.80" stroke-width="1.4"/>
<line x1="428.35" y1="177.00" x2="428.35" y2="168.00" stroke-width="1.4"/>
<line x1="425.85" y1="168.00" x2="430.85" y2="168.00" stroke-width="1.4"/>
<line x1="428.35" y1="177.00" x2="428.35" y2="190.50" stroke-width="1.4"/>
<line x1="425.85" y1="190.50" x2="430.85" y2="190.50" stroke-width="1.4"/>
<line x1="533.37" y1="171.25" x2="533.37" y2="158.75" stroke-width="1.4"/>
<line x1="530.87" y1="158.75" x2="535.87" y2="158.75" stroke-width="1.4"/>
<line x1="533.37" y1="171.25" x2="533.37" y2="193.75" stroke-width="1.4"/>
<line x1="530.87" y1="193.75" x2="535.87" y2="193.75" stroke-width="1.4"/>
<polyline fill="none" stroke-width="2.4" stroke-linejoin="round" points="370.00,212.90 375.00,183.00 381.67,160.00 386.67,169.50 393.34,170.00 405.01,190.50 428.35,177.00 533.37,171.25"/>
<rect x="367.60" y="210.50" width="4.8" height="4.8" stroke="none"/>
<rect x="372.60" y="180.60" width="4.8" height="4.8" stroke="none"/>
<rect x="379.27" y="157.60" width="4.8" height="4.8" stroke="none"/>
<rect x="384.27" y="167.10" width="4.8" height="4.8" stroke="none"/>
<rect x="390.94" y="167.60" width="4.8" height="4.8" stroke="none"/>
<rect x="402.61" y="188.10" width="4.8" height="4.8" stroke="none"/>
<rect x="425.95" y="174.60" width="4.8" height="4.8" stroke="none"/>
<rect x="530.97" y="168.85" width="4.8" height="4.8" stroke="none"/>
<line x1="375.00" y1="191.90" x2="375.00" y2="204.80" stroke-width="1.4"/>
<line x1="372.50" y1="204.80" x2="377.50" y2="204.80" stroke-width="1.4"/>
<line x1="386.67" y1="137.60" x2="386.67" y2="129.00" stroke-width="1.4"/>
<line x1="384.17" y1="129.00" x2="389.17" y2="129.00" stroke-width="1.4"/>
<line x1="386.67" y1="137.60" x2="386.67" y2="150.50" stroke-width="1.4"/>
<line x1="384.17" y1="150.50" x2="389.17" y2="150.50" stroke-width="1.4"/>
<line x1="393.34" y1="42.70" x2="393.34" y2="32.00" stroke-width="1.4"/>
<line x1="390.84" y1="32.00" x2="395.84" y2="32.00" stroke-width="1.4"/>
<line x1="393.34" y1="42.70" x2="393.34" y2="59.30" stroke-width="1.4"/>
<line x1="390.84" y1="59.30" x2="395.84" y2="59.30" stroke-width="1.4"/>
<line x1="405.01" y1="55.30" x2="405.01" y2="52.50" stroke-width="1.4"/>
<line x1="402.51" y1="52.50" x2="407.51" y2="52.50" stroke-width="1.4"/>
<line x1="405.01" y1="55.30" x2="405.01" y2="58.00" stroke-width="1.4"/>
<line x1="402.51" y1="58.00" x2="407.51" y2="58.00" stroke-width="1.4"/>
<line x1="428.35" y1="46.70" x2="428.35" y2="35.00" stroke-width="1.4"/>
<line x1="425.85" y1="35.00" x2="430.85" y2="35.00" stroke-width="1.4"/>
<line x1="428.35" y1="46.70" x2="428.35" y2="67.30" stroke-width="1.4"/>
<line x1="425.85" y1="67.30" x2="430.85" y2="67.30" stroke-width="1.4"/>
<line x1="533.37" y1="121.70" x2="533.37" y2="117.50" stroke-width="1.4"/>
<line x1="530.87" y1="117.50" x2="535.87" y2="117.50" stroke-width="1.4"/>
<line x1="533.37" y1="121.70" x2="533.37" y2="126.20" stroke-width="1.4"/>
<line x1="530.87" y1="126.20" x2="535.87" y2="126.20" stroke-width="1.4"/>
<polyline fill="none" stroke-width="2.4" stroke-linejoin="round" points="370.00,212.90 375.00,191.90 381.67,157.60 386.67,137.60 393.34,42.70 405.01,55.30 428.35,46.70 533.37,121.70"/>
<circle cx="370.00" cy="212.90" r="3.0" stroke="none"/>
<circle cx="375.00" cy="191.90" r="3.0" stroke="none"/>
<circle cx="381.67" cy="157.60" r="3.0" stroke="none"/>
<circle cx="386.67" cy="137.60" r="3.0" stroke="none"/>
<circle cx="393.34" cy="42.70" r="3.0" stroke="none"/>
<circle cx="405.01" cy="55.30" r="3.0" stroke="none"/>
<circle cx="428.35" cy="46.70" r="3.0" stroke="none"/>
<circle cx="533.37" cy="121.70" r="3.0" stroke="none"/>
<rect x="402.40" y="52.70" width="5.2" height="5.2" stroke="none"/>
<line x1="649.30" y1="199.60" x2="649.30" y2="192.70" stroke-width="1.4"/>
<line x1="646.80" y1="192.70" x2="651.80" y2="192.70" stroke-width="1.4"/>
<line x1="649.30" y1="199.60" x2="649.30" y2="215.90" stroke-width="1.4"/>
<line x1="646.80" y1="215.90" x2="651.80" y2="215.90" stroke-width="1.4"/>
<line x1="655.97" y1="202.50" x2="655.97" y2="223.60" stroke-width="1.4"/>
<line x1="653.47" y1="223.60" x2="658.47" y2="223.60" stroke-width="1.4"/>
<line x1="667.64" y1="204.10" x2="667.64" y2="192.70" stroke-width="1.4"/>
<line x1="665.14" y1="192.70" x2="670.14" y2="192.70" stroke-width="1.4"/>
<line x1="667.64" y1="204.10" x2="667.64" y2="223.60" stroke-width="1.4"/>
<line x1="665.14" y1="223.60" x2="670.14" y2="223.60" stroke-width="1.4"/>
<line x1="679.31" y1="212.40" x2="679.31" y2="201.90" stroke-width="1.4"/>
<line x1="676.81" y1="201.90" x2="681.81" y2="201.90" stroke-width="1.4"/>
<line x1="679.31" y1="212.40" x2="679.31" y2="228.40" stroke-width="1.4"/>
<line x1="676.81" y1="228.40" x2="681.81" y2="228.40" stroke-width="1.4"/>
<line x1="702.64" y1="213.00" x2="702.64" y2="211.00" stroke-width="1.4"/>
<line x1="700.14" y1="211.00" x2="705.14" y2="211.00" stroke-width="1.4"/>
<line x1="702.64" y1="213.00" x2="702.64" y2="215.00" stroke-width="1.4"/>
<line x1="700.14" y1="215.00" x2="705.14" y2="215.00" stroke-width="1.4"/>
<line x1="807.67" y1="209.50" x2="807.67" y2="196.25" stroke-width="1.4"/>
<line x1="805.17" y1="196.25" x2="810.17" y2="196.25" stroke-width="1.4"/>
<line x1="807.67" y1="209.50" x2="807.67" y2="234.50" stroke-width="1.4"/>
<line x1="805.17" y1="234.50" x2="810.17" y2="234.50" stroke-width="1.4"/>
<polyline fill="none" stroke-width="2.4" stroke-linejoin="round" points="644.30,212.40 649.30,199.60 655.97,202.50 660.97,204.70 667.64,204.10 679.31,212.40 702.64,213.00 807.67,209.50"/>
<rect x="641.90" y="210.00" width="4.8" height="4.8" stroke="none"/>
<rect x="646.90" y="197.20" width="4.8" height="4.8" stroke="none"/>
<rect x="653.57" y="200.10" width="4.8" height="4.8" stroke="none"/>
<rect x="658.57" y="202.30" width="4.8" height="4.8" stroke="none"/>
<rect x="665.24" y="201.70" width="4.8" height="4.8" stroke="none"/>
<rect x="676.91" y="210.00" width="4.8" height="4.8" stroke="none"/>
<rect x="700.25" y="210.60" width="4.8" height="4.8" stroke="none"/>
<rect x="805.27" y="207.10" width="4.8" height="4.8" stroke="none"/>
<line x1="655.97" y1="209.30" x2="655.97" y2="219.30" stroke-width="1.4"/>
<line x1="653.47" y1="219.30" x2="658.47" y2="219.30" stroke-width="1.4"/>
<line x1="660.97" y1="194.40" x2="660.97" y2="186.70" stroke-width="1.4"/>
<line x1="658.47" y1="186.70" x2="663.47" y2="186.70" stroke-width="1.4"/>
<line x1="660.97" y1="194.40" x2="660.97" y2="202.00" stroke-width="1.4"/>
<line x1="658.47" y1="202.00" x2="663.47" y2="202.00" stroke-width="1.4"/>
<line x1="667.64" y1="120.70" x2="667.64" y2="109.20" stroke-width="1.4"/>
<line x1="665.14" y1="109.20" x2="670.14" y2="109.20" stroke-width="1.4"/>
<line x1="667.64" y1="120.70" x2="667.64" y2="139.50" stroke-width="1.4"/>
<line x1="665.14" y1="139.50" x2="670.14" y2="139.50" stroke-width="1.4"/>
<line x1="679.31" y1="138.80" x2="679.31" y2="132.80" stroke-width="1.4"/>
<line x1="676.81" y1="132.80" x2="681.81" y2="132.80" stroke-width="1.4"/>
<line x1="679.31" y1="138.80" x2="679.31" y2="146.75" stroke-width="1.4"/>
<line x1="676.81" y1="146.75" x2="681.81" y2="146.75" stroke-width="1.4"/>
<line x1="702.64" y1="141.05" x2="702.64" y2="134.40" stroke-width="1.4"/>
<line x1="700.14" y1="134.40" x2="705.14" y2="134.40" stroke-width="1.4"/>
<line x1="702.64" y1="141.05" x2="702.64" y2="150.50" stroke-width="1.4"/>
<line x1="700.14" y1="150.50" x2="705.14" y2="150.50" stroke-width="1.4"/>
<line x1="807.67" y1="150.20" x2="807.67" y2="143.50" stroke-width="1.4"/>
<line x1="805.17" y1="143.50" x2="810.17" y2="143.50" stroke-width="1.4"/>
<line x1="807.67" y1="150.20" x2="807.67" y2="159.10" stroke-width="1.4"/>
<line x1="805.17" y1="159.10" x2="810.17" y2="159.10" stroke-width="1.4"/>
<polyline fill="none" stroke-width="2.4" stroke-linejoin="round" points="644.30,212.40 649.30,208.70 655.97,209.30 660.97,194.40 667.64,120.70 679.31,138.80 702.64,141.05 807.67,150.20"/>
<circle cx="644.30" cy="212.40" r="3.0" stroke="none"/>
<circle cx="649.30" cy="208.70" r="3.0" stroke="none"/>
<circle cx="655.97" cy="209.30" r="3.0" stroke="none"/>
<circle cx="660.97" cy="194.40" r="3.0" stroke="none"/>
<circle cx="667.64" cy="120.70" r="3.0" stroke="none"/>
<circle cx="679.31" cy="138.80" r="3.0" stroke="none"/>
<circle cx="702.64" cy="141.05" r="3.0" stroke="none"/>
<circle cx="807.67" cy="150.20" r="3.0" stroke="none"/>
<line x1="103.50" y1="547.70" x2="103.50" y2="542.00" stroke-width="1.4"/>
<line x1="101.00" y1="542.00" x2="106.00" y2="542.00" stroke-width="1.4"/>
<line x1="110.17" y1="566.00" x2="110.17" y2="545.00" stroke-width="1.4"/>
<line x1="107.67" y1="545.00" x2="112.67" y2="545.00" stroke-width="1.4"/>
<line x1="110.17" y1="566.00" x2="110.17" y2="578.50" stroke-width="1.4"/>
<line x1="107.67" y1="578.50" x2="112.67" y2="578.50" stroke-width="1.4"/>
<line x1="115.17" y1="546.50" x2="115.17" y2="553.00" stroke-width="1.4"/>
<line x1="112.67" y1="553.00" x2="117.67" y2="553.00" stroke-width="1.4"/>
<line x1="121.84" y1="553.00" x2="121.84" y2="539.70" stroke-width="1.4"/>
<line x1="119.34" y1="539.70" x2="124.34" y2="539.70" stroke-width="1.4"/>
<line x1="121.84" y1="553.00" x2="121.84" y2="578.50" stroke-width="1.4"/>
<line x1="119.34" y1="578.50" x2="124.34" y2="578.50" stroke-width="1.4"/>
<line x1="133.51" y1="541.60" x2="133.51" y2="537.40" stroke-width="1.4"/>
<line x1="131.01" y1="537.40" x2="136.01" y2="537.40" stroke-width="1.4"/>
<line x1="133.51" y1="541.60" x2="133.51" y2="547.00" stroke-width="1.4"/>
<line x1="131.01" y1="547.00" x2="136.01" y2="547.00" stroke-width="1.4"/>
<line x1="156.84" y1="550.00" x2="156.84" y2="544.50" stroke-width="1.4"/>
<line x1="154.34" y1="544.50" x2="159.34" y2="544.50" stroke-width="1.4"/>
<line x1="156.84" y1="550.00" x2="156.84" y2="557.50" stroke-width="1.4"/>
<line x1="154.34" y1="557.50" x2="159.34" y2="557.50" stroke-width="1.4"/>
<line x1="261.87" y1="547.00" x2="261.87" y2="542.00" stroke-width="1.4"/>
<line x1="259.37" y1="542.00" x2="264.37" y2="542.00" stroke-width="1.4"/>
<line x1="261.87" y1="547.00" x2="261.87" y2="553.75" stroke-width="1.4"/>
<line x1="259.37" y1="553.75" x2="264.37" y2="553.75" stroke-width="1.4"/>
<polyline fill="none" stroke-width="2.4" stroke-linejoin="round" points="98.50,550.00 103.50,547.70 110.17,566.00 115.17,546.50 121.84,553.00 133.51,541.60 156.84,550.00 261.87,547.00"/>
<rect x="96.10" y="547.60" width="4.8" height="4.8" stroke="none"/>
<rect x="101.10" y="545.30" width="4.8" height="4.8" stroke="none"/>
<rect x="107.77" y="563.60" width="4.8" height="4.8" stroke="none"/>
<rect x="112.77" y="544.10" width="4.8" height="4.8" stroke="none"/>
<rect x="119.44" y="550.60" width="4.8" height="4.8" stroke="none"/>
<rect x="131.11" y="539.20" width="4.8" height="4.8" stroke="none"/>
<rect x="154.44" y="547.60" width="4.8" height="4.8" stroke="none"/>
<rect x="259.47" y="544.60" width="4.8" height="4.8" stroke="none"/>
<line x1="103.50" y1="556.80" x2="103.50" y2="566.00" stroke-width="1.4"/>
<line x1="101.00" y1="566.00" x2="106.00" y2="566.00" stroke-width="1.4"/>
<line x1="110.17" y1="525.40" x2="110.17" y2="513.80" stroke-width="1.4"/>
<line x1="107.67" y1="513.80" x2="112.67" y2="513.80" stroke-width="1.4"/>
<line x1="110.17" y1="525.40" x2="110.17" y2="543.90" stroke-width="1.4"/>
<line x1="107.67" y1="543.90" x2="112.67" y2="543.90" stroke-width="1.4"/>
<line x1="115.17" y1="535.10" x2="115.17" y2="541.60" stroke-width="1.4"/>
<line x1="112.67" y1="541.60" x2="117.67" y2="541.60" stroke-width="1.4"/>
<line x1="121.84" y1="463.00" x2="121.84" y2="453.75" stroke-width="1.4"/>
<line x1="119.34" y1="453.75" x2="124.34" y2="453.75" stroke-width="1.4"/>
<line x1="121.84" y1="463.00" x2="121.84" y2="475.00" stroke-width="1.4"/>
<line x1="119.34" y1="475.00" x2="124.34" y2="475.00" stroke-width="1.4"/>
<line x1="133.51" y1="480.00" x2="133.51" y2="474.50" stroke-width="1.4"/>
<line x1="131.01" y1="474.50" x2="136.01" y2="474.50" stroke-width="1.4"/>
<line x1="133.51" y1="480.00" x2="133.51" y2="487.50" stroke-width="1.4"/>
<line x1="131.01" y1="487.50" x2="136.01" y2="487.50" stroke-width="1.4"/>
<line x1="156.84" y1="492.50" x2="156.84" y2="484.25" stroke-width="1.4"/>
<line x1="154.34" y1="484.25" x2="159.34" y2="484.25" stroke-width="1.4"/>
<line x1="156.84" y1="492.50" x2="156.84" y2="502.50" stroke-width="1.4"/>
<line x1="154.34" y1="502.50" x2="159.34" y2="502.50" stroke-width="1.4"/>
<line x1="261.87" y1="505.50" x2="261.87" y2="499.50" stroke-width="1.4"/>
<line x1="259.37" y1="499.50" x2="264.37" y2="499.50" stroke-width="1.4"/>
<line x1="261.87" y1="505.50" x2="261.87" y2="513.10" stroke-width="1.4"/>
<line x1="259.37" y1="513.10" x2="264.37" y2="513.10" stroke-width="1.4"/>
<polyline fill="none" stroke-width="2.4" stroke-linejoin="round" points="98.50,550.00 103.50,556.80 110.17,525.40 115.17,535.10 121.84,463.00 133.51,480.00 156.84,492.50 261.87,505.50"/>
<circle cx="98.50" cy="550.00" r="3.0" stroke="none"/>
<circle cx="103.50" cy="556.80" r="3.0" stroke="none"/>
<circle cx="110.17" cy="525.40" r="3.0" stroke="none"/>
<circle cx="115.17" cy="535.10" r="3.0" stroke="none"/>
<circle cx="121.84" cy="463.00" r="3.0" stroke="none"/>
<circle cx="133.51" cy="480.00" r="3.0" stroke="none"/>
<circle cx="156.84" cy="492.50" r="3.0" stroke="none"/>
<circle cx="261.87" cy="505.50" r="3.0" stroke="none"/>
<line x1="405.21" y1="524.70" x2="405.21" y2="519.90" stroke-width="1.4"/>
<line x1="402.71" y1="519.90" x2="407.71" y2="519.90" stroke-width="1.4"/>
<line x1="405.21" y1="524.70" x2="405.21" y2="530.20" stroke-width="1.4"/>
<line x1="402.71" y1="530.20" x2="407.71" y2="530.20" stroke-width="1.4"/>
<line x1="428.54" y1="539.50" x2="428.54" y2="533.75" stroke-width="1.4"/>
<line x1="426.04" y1="533.75" x2="431.04" y2="533.75" stroke-width="1.4"/>
<line x1="428.54" y1="539.50" x2="428.54" y2="546.25" stroke-width="1.4"/>
<line x1="426.04" y1="546.25" x2="431.04" y2="546.25" stroke-width="1.4"/>
<line x1="533.57" y1="529.10" x2="533.57" y2="521.10" stroke-width="1.4"/>
<line x1="531.07" y1="521.10" x2="536.07" y2="521.10" stroke-width="1.4"/>
<line x1="533.57" y1="529.10" x2="533.57" y2="539.50" stroke-width="1.4"/>
<line x1="531.07" y1="539.50" x2="536.07" y2="539.50" stroke-width="1.4"/>
<polyline fill="none" stroke-width="2.4" stroke-linejoin="round" points="370.20,552.10 375.20,527.00 381.87,522.00 386.87,535.00 393.54,527.30 405.21,524.70 428.54,539.50 533.57,529.10"/>
<rect x="367.80" y="549.70" width="4.8" height="4.8" stroke="none"/>
<rect x="372.80" y="524.60" width="4.8" height="4.8" stroke="none"/>
<rect x="379.47" y="519.60" width="4.8" height="4.8" stroke="none"/>
<rect x="384.47" y="532.60" width="4.8" height="4.8" stroke="none"/>
<rect x="391.14" y="524.90" width="4.8" height="4.8" stroke="none"/>
<rect x="402.81" y="522.30" width="4.8" height="4.8" stroke="none"/>
<rect x="426.14" y="537.10" width="4.8" height="4.8" stroke="none"/>
<rect x="531.17" y="526.70" width="4.8" height="4.8" stroke="none"/>
<line x1="375.20" y1="522.00" x2="375.20" y2="512.10" stroke-width="1.4"/>
<line x1="372.70" y1="512.10" x2="377.70" y2="512.10" stroke-width="1.4"/>
<line x1="375.20" y1="522.00" x2="375.20" y2="536.50" stroke-width="1.4"/>
<line x1="372.70" y1="536.50" x2="377.70" y2="536.50" stroke-width="1.4"/>
<line x1="381.87" y1="519.30" x2="381.87" y2="508.70" stroke-width="1.4"/>
<line x1="379.37" y1="508.70" x2="384.37" y2="508.70" stroke-width="1.4"/>
<line x1="381.87" y1="519.30" x2="381.87" y2="537.30" stroke-width="1.4"/>
<line x1="379.37" y1="537.30" x2="384.37" y2="537.30" stroke-width="1.4"/>
<line x1="386.87" y1="532.70" x2="386.87" y2="538.80" stroke-width="1.4"/>
<line x1="384.37" y1="538.80" x2="389.37" y2="538.80" stroke-width="1.4"/>
<line x1="393.54" y1="500.00" x2="393.54" y2="489.60" stroke-width="1.4"/>
<line x1="391.04" y1="489.60" x2="396.04" y2="489.60" stroke-width="1.4"/>
<line x1="393.54" y1="500.00" x2="393.54" y2="515.90" stroke-width="1.4"/>
<line x1="391.04" y1="515.90" x2="396.04" y2="515.90" stroke-width="1.4"/>
<line x1="405.21" y1="480.90" x2="405.21" y2="476.50" stroke-width="1.4"/>
<line x1="402.71" y1="476.50" x2="407.71" y2="476.50" stroke-width="1.4"/>
<line x1="405.21" y1="480.90" x2="405.21" y2="486.10" stroke-width="1.4"/>
<line x1="402.71" y1="486.10" x2="407.71" y2="486.10" stroke-width="1.4"/>
<line x1="428.54" y1="487.20" x2="428.54" y2="475.50" stroke-width="1.4"/>
<line x1="426.04" y1="475.50" x2="431.04" y2="475.50" stroke-width="1.4"/>
<line x1="428.54" y1="487.20" x2="428.54" y2="506.80" stroke-width="1.4"/>
<line x1="426.04" y1="506.80" x2="431.04" y2="506.80" stroke-width="1.4"/>
<line x1="533.57" y1="508.90" x2="533.57" y2="504.40" stroke-width="1.4"/>
<line x1="531.07" y1="504.40" x2="536.07" y2="504.40" stroke-width="1.4"/>
<line x1="533.57" y1="508.90" x2="533.57" y2="514.10" stroke-width="1.4"/>
<line x1="531.07" y1="514.10" x2="536.07" y2="514.10" stroke-width="1.4"/>
<polyline fill="none" stroke-width="2.4" stroke-linejoin="round" points="370.20,552.10 375.20,522.00 381.87,519.30 386.87,532.70 393.54,500.00 405.21,480.90 428.54,487.20 533.57,508.90"/>
<circle cx="370.20" cy="552.10" r="3.0" stroke="none"/>
<circle cx="375.20" cy="522.00" r="3.0" stroke="none"/>
<circle cx="381.87" cy="519.30" r="3.0" stroke="none"/>
<circle cx="386.87" cy="532.70" r="3.0" stroke="none"/>
<circle cx="393.54" cy="500.00" r="3.0" stroke="none"/>
<circle cx="405.21" cy="480.90" r="3.0" stroke="none"/>
<circle cx="428.54" cy="487.20" r="3.0" stroke="none"/>
<circle cx="533.57" cy="508.90" r="3.0" stroke="none"/>
<polyline fill="none" stroke-width="2.4" stroke-linejoin="round" points="644.80,551.60 649.80,552.20 656.47,549.00 661.47,552.20 668.14,551.60 679.81,551.40 703.14,559.00 808.17,552.00"/>
<rect x="642.40" y="549.20" width="4.8" height="4.8" stroke="none"/>
<rect x="647.40" y="549.80" width="4.8" height="4.8" stroke="none"/>
<rect x="654.07" y="546.60" width="4.8" height="4.8" stroke="none"/>
<rect x="659.07" y="549.80" width="4.8" height="4.8" stroke="none"/>
<rect x="665.74" y="549.20" width="4.8" height="4.8" stroke="none"/>
<rect x="677.41" y="549.00" width="4.8" height="4.8" stroke="none"/>
<rect x="700.75" y="556.60" width="4.8" height="4.8" stroke="none"/>
<rect x="805.77" y="549.60" width="4.8" height="4.8" stroke="none"/>
<line x1="649.80" y1="546.00" x2="649.80" y2="541.40" stroke-width="1.4"/>
<line x1="647.30" y1="541.40" x2="652.30" y2="541.40" stroke-width="1.4"/>
<line x1="656.47" y1="535.20" x2="656.47" y2="530.40" stroke-width="1.4"/>
<line x1="653.97" y1="530.40" x2="658.97" y2="530.40" stroke-width="1.4"/>
<line x1="656.47" y1="535.20" x2="656.47" y2="541.25" stroke-width="1.4"/>
<line x1="653.97" y1="541.25" x2="658.97" y2="541.25" stroke-width="1.4"/>
<line x1="661.47" y1="546.00" x2="661.47" y2="541.30" stroke-width="1.4"/>
<line x1="658.97" y1="541.30" x2="663.97" y2="541.30" stroke-width="1.4"/>
<line x1="668.14" y1="431.50" x2="668.14" y2="416.30" stroke-width="1.4"/>
<line x1="665.64" y1="416.30" x2="670.64" y2="416.30" stroke-width="1.4"/>
<line x1="668.14" y1="431.50" x2="668.14" y2="463.00" stroke-width="1.4"/>
<line x1="665.64" y1="463.00" x2="670.64" y2="463.00" stroke-width="1.4"/>
<line x1="679.81" y1="457.40" x2="679.81" y2="454.40" stroke-width="1.4"/>
<line x1="677.31" y1="454.40" x2="682.31" y2="454.40" stroke-width="1.4"/>
<line x1="679.81" y1="457.40" x2="679.81" y2="461.20" stroke-width="1.4"/>
<line x1="677.31" y1="461.20" x2="682.31" y2="461.20" stroke-width="1.4"/>
<line x1="703.14" y1="475.00" x2="703.14" y2="459.30" stroke-width="1.4"/>
<line x1="700.64" y1="459.30" x2="705.64" y2="459.30" stroke-width="1.4"/>
<line x1="703.14" y1="475.00" x2="703.14" y2="509.50" stroke-width="1.4"/>
<line x1="700.64" y1="509.50" x2="705.64" y2="509.50" stroke-width="1.4"/>
<line x1="808.17" y1="499.60" x2="808.17" y2="487.00" stroke-width="1.4"/>
<line x1="805.67" y1="487.00" x2="810.67" y2="487.00" stroke-width="1.4"/>
<line x1="808.17" y1="499.60" x2="808.17" y2="521.30" stroke-width="1.4"/>
<line x1="805.67" y1="521.30" x2="810.67" y2="521.30" stroke-width="1.4"/>
<polyline fill="none" stroke-width="2.4" stroke-linejoin="round" points="644.80,551.60 649.80,546.00 656.47,535.20 661.47,546.00 668.14,431.50 679.81,457.40 703.14,475.00 808.17,499.60"/>
<circle cx="644.80" cy="551.60" r="3.0" stroke="none"/>
<circle cx="649.80" cy="546.00" r="3.0" stroke="none"/>
<circle cx="656.47" cy="535.20" r="3.0" stroke="none"/>
<circle cx="661.47" cy="546.00" r="3.0" stroke="none"/>
<circle cx="668.14" cy="431.50" r="3.0" stroke="none"/>
<circle cx="679.81" cy="457.40" r="3.0" stroke="none"/>
<circle cx="703.14" cy="475.00" r="3.0" stroke="none"/>
<circle cx="808.17" cy="499.60" r="3.0" stroke="none"/>
<line x1="100.70" y1="857.30" x2="100.70" y2="849.70" stroke-width="1.4"/>
<line x1="98.20" y1="849.70" x2="103.20" y2="849.70" stroke-width="1.4"/>
<line x1="100.70" y1="857.30" x2="100.70" y2="897.00" stroke-width="1.4"/>
<line x1="98.20" y1="897.00" x2="103.20" y2="897.00" stroke-width="1.4"/>
<line x1="107.37" y1="880.00" x2="107.37" y2="869.00" stroke-width="1.4"/>
<line x1="104.87" y1="869.00" x2="109.87" y2="869.00" stroke-width="1.4"/>
<line x1="107.37" y1="880.00" x2="107.37" y2="897.00" stroke-width="1.4"/>
<line x1="104.87" y1="897.00" x2="109.87" y2="897.00" stroke-width="1.4"/>
<line x1="112.37" y1="885.00" x2="112.37" y2="872.70" stroke-width="1.4"/>
<line x1="109.87" y1="872.70" x2="114.87" y2="872.70" stroke-width="1.4"/>
<line x1="112.37" y1="885.00" x2="112.37" y2="900.30" stroke-width="1.4"/>
<line x1="109.87" y1="900.30" x2="114.87" y2="900.30" stroke-width="1.4"/>
<line x1="119.04" y1="891.70" x2="119.04" y2="884.00" stroke-width="1.4"/>
<line x1="116.54" y1="884.00" x2="121.54" y2="884.00" stroke-width="1.4"/>
<line x1="119.04" y1="891.70" x2="119.04" y2="903.30" stroke-width="1.4"/>
<line x1="116.54" y1="903.30" x2="121.54" y2="903.30" stroke-width="1.4"/>
<line x1="154.05" y1="879.25" x2="154.05" y2="875.00" stroke-width="1.4"/>
<line x1="151.55" y1="875.00" x2="156.55" y2="875.00" stroke-width="1.4"/>
<line x1="154.05" y1="879.25" x2="154.05" y2="883.00" stroke-width="1.4"/>
<line x1="151.55" y1="883.00" x2="156.55" y2="883.00" stroke-width="1.4"/>
<line x1="259.07" y1="880.00" x2="259.07" y2="875.00" stroke-width="1.4"/>
<line x1="256.57" y1="875.00" x2="261.57" y2="875.00" stroke-width="1.4"/>
<line x1="259.07" y1="880.00" x2="259.07" y2="901.25" stroke-width="1.4"/>
<line x1="256.57" y1="901.25" x2="261.57" y2="901.25" stroke-width="1.4"/>
<polyline fill="none" stroke-width="2.4" stroke-linejoin="round" points="95.70,891.00 100.70,857.30 107.37,880.00 112.37,885.00 119.04,891.70 130.71,899.70 154.05,879.25 259.07,880.00"/>
<rect x="93.30" y="888.60" width="4.8" height="4.8" stroke="none"/>
<rect x="98.30" y="854.90" width="4.8" height="4.8" stroke="none"/>
<rect x="104.97" y="877.60" width="4.8" height="4.8" stroke="none"/>
<rect x="109.97" y="882.60" width="4.8" height="4.8" stroke="none"/>
<rect x="116.64" y="889.30" width="4.8" height="4.8" stroke="none"/>
<rect x="128.31" y="897.30" width="4.8" height="4.8" stroke="none"/>
<rect x="151.65" y="876.85" width="4.8" height="4.8" stroke="none"/>
<rect x="256.67" y="877.60" width="4.8" height="4.8" stroke="none"/>
<line x1="119.04" y1="827.80" x2="119.04" y2="820.20" stroke-width="1.4"/>
<line x1="116.54" y1="820.20" x2="121.54" y2="820.20" stroke-width="1.4"/>
<line x1="119.04" y1="827.80" x2="119.04" y2="838.20" stroke-width="1.4"/>
<line x1="116.54" y1="838.20" x2="121.54" y2="838.20" stroke-width="1.4"/>
<line x1="130.71" y1="822.30" x2="130.71" y2="810.80" stroke-width="1.4"/>
<line x1="128.21" y1="810.80" x2="133.21" y2="810.80" stroke-width="1.4"/>
<line x1="130.71" y1="822.30" x2="130.71" y2="841.10" stroke-width="1.4"/>
<line x1="128.21" y1="841.10" x2="133.21" y2="841.10" stroke-width="1.4"/>
<line x1="154.05" y1="827.00" x2="154.05" y2="809.80" stroke-width="1.4"/>
<line x1="151.55" y1="809.80" x2="156.55" y2="809.80" stroke-width="1.4"/>
<line x1="154.05" y1="827.00" x2="154.05" y2="870.50" stroke-width="1.4"/>
<line x1="151.55" y1="870.50" x2="156.55" y2="870.50" stroke-width="1.4"/>
<line x1="259.07" y1="867.00" x2="259.07" y2="855.50" stroke-width="1.4"/>
<line x1="256.57" y1="855.50" x2="261.57" y2="855.50" stroke-width="1.4"/>
<line x1="259.07" y1="867.00" x2="259.07" y2="880.00" stroke-width="1.4"/>
<line x1="256.57" y1="880.00" x2="261.57" y2="880.00" stroke-width="1.4"/>
<polyline fill="none" stroke-width="2.4" stroke-linejoin="round" points="95.70,891.00 100.70,879.30 107.37,889.70 112.37,885.00 119.04,827.80 130.71,822.30 154.05,827.00 259.07,867.00"/>
<circle cx="95.70" cy="891.00" r="3.0" stroke="none"/>
<circle cx="100.70" cy="879.30" r="3.0" stroke="none"/>
<circle cx="107.37" cy="889.70" r="3.0" stroke="none"/>
<circle cx="112.37" cy="885.00" r="3.0" stroke="none"/>
<circle cx="119.04" cy="827.80" r="3.0" stroke="none"/>
<circle cx="130.71" cy="822.30" r="3.0" stroke="none"/>
<circle cx="154.05" cy="827.00" r="3.0" stroke="none"/>
<circle cx="259.07" cy="867.00" r="3.0" stroke="none"/>
<line x1="375.00" y1="875.00" x2="375.00" y2="864.25" stroke-width="1.4"/>
<line x1="372.50" y1="864.25" x2="377.50" y2="864.25" stroke-width="1.4"/>
<line x1="375.00" y1="875.00" x2="375.00" y2="888.75" stroke-width="1.4"/>
<line x1="372.50" y1="888.75" x2="377.50" y2="888.75" stroke-width="1.4"/>
<line x1="381.67" y1="871.25" x2="381.67" y2="862.00" stroke-width="1.4"/>
<line x1="379.17" y1="862.00" x2="384.17" y2="862.00" stroke-width="1.4"/>
<line x1="386.67" y1="853.00" x2="386.67" y2="842.50" stroke-width="1.4"/>
<line x1="384.17" y1="842.50" x2="389.17" y2="842.50" stroke-width="1.4"/>
<line x1="386.67" y1="853.00" x2="386.67" y2="871.25" stroke-width="1.4"/>
<line x1="384.17" y1="871.25" x2="389.17" y2="871.25" stroke-width="1.4"/>
<line x1="393.34" y1="863.75" x2="393.34" y2="852.50" stroke-width="1.4"/>
<line x1="390.84" y1="852.50" x2="395.84" y2="852.50" stroke-width="1.4"/>
<line x1="393.34" y1="863.75" x2="393.34" y2="885.50" stroke-width="1.4"/>
<line x1="390.84" y1="885.50" x2="395.84" y2="885.50" stroke-width="1.4"/>
<line x1="405.01" y1="898.75" x2="405.01" y2="886.75" stroke-width="1.4"/>
<line x1="402.51" y1="886.75" x2="407.51" y2="886.75" stroke-width="1.4"/>
<line x1="405.01" y1="898.75" x2="405.01" y2="925.00" stroke-width="1.4"/>
<line x1="402.51" y1="925.00" x2="407.51" y2="925.00" stroke-width="1.4"/>
<line x1="428.35" y1="836.75" x2="428.35" y2="823.75" stroke-width="1.4"/>
<line x1="425.85" y1="823.75" x2="430.85" y2="823.75" stroke-width="1.4"/>
<line x1="428.35" y1="836.75" x2="428.35" y2="861.25" stroke-width="1.4"/>
<line x1="425.85" y1="861.25" x2="430.85" y2="861.25" stroke-width="1.4"/>
<line x1="533.37" y1="835.00" x2="533.37" y2="818.75" stroke-width="1.4"/>
<line x1="530.87" y1="818.75" x2="535.87" y2="818.75" stroke-width="1.4"/>
<line x1="533.37" y1="835.00" x2="533.37" y2="876.25" stroke-width="1.4"/>
<line x1="530.87" y1="876.25" x2="535.87" y2="876.25" stroke-width="1.4"/>
<polyline fill="none" stroke-width="2.4" stroke-linejoin="round" points="370.00,881.25 375.00,875.00 381.67,871.25 386.67,853.00 393.34,863.75 405.01,898.75 428.35,836.75 533.37,835.00"/>
<rect x="367.60" y="878.85" width="4.8" height="4.8" stroke="none"/>
<rect x="372.60" y="872.60" width="4.8" height="4.8" stroke="none"/>
<rect x="379.27" y="868.85" width="4.8" height="4.8" stroke="none"/>
<rect x="384.27" y="850.60" width="4.8" height="4.8" stroke="none"/>
<rect x="390.94" y="861.35" width="4.8" height="4.8" stroke="none"/>
<rect x="402.61" y="896.35" width="4.8" height="4.8" stroke="none"/>
<rect x="425.95" y="834.35" width="4.8" height="4.8" stroke="none"/>
<rect x="530.97" y="832.60" width="4.8" height="4.8" stroke="none"/>
<line x1="381.67" y1="889.50" x2="381.67" y2="871.00" stroke-width="1.4"/>
<line x1="379.17" y1="871.00" x2="384.17" y2="871.00" stroke-width="1.4"/>
<line x1="381.67" y1="889.50" x2="381.67" y2="905.00" stroke-width="1.4"/>
<line x1="379.17" y1="905.00" x2="384.17" y2="905.00" stroke-width="1.4"/>
<line x1="393.34" y1="808.80" x2="393.34" y2="801.50" stroke-width="1.4"/>
<line x1="390.84" y1="801.50" x2="395.84" y2="801.50" stroke-width="1.4"/>
<line x1="393.34" y1="808.80" x2="393.34" y2="818.50" stroke-width="1.4"/>
<line x1="390.84" y1="818.50" x2="395.84" y2="818.50" stroke-width="1.4"/>
<line x1="405.01" y1="790.70" x2="405.01" y2="772.40" stroke-width="1.4"/>
<line x1="402.51" y1="772.40" x2="407.51" y2="772.40" stroke-width="1.4"/>
<line x1="405.01" y1="790.70" x2="405.01" y2="848.25" stroke-width="1.4"/>
<line x1="402.51" y1="848.25" x2="407.51" y2="848.25" stroke-width="1.4"/>
<line x1="428.35" y1="771.30" x2="428.35" y2="765.70" stroke-width="1.4"/>
<line x1="425.85" y1="765.70" x2="430.85" y2="765.70" stroke-width="1.4"/>
<line x1="428.35" y1="771.30" x2="428.35" y2="777.90" stroke-width="1.4"/>
<line x1="425.85" y1="777.90" x2="430.85" y2="777.90" stroke-width="1.4"/>
<line x1="533.37" y1="740.70" x2="533.37" y2="731.40" stroke-width="1.4"/>
<line x1="530.87" y1="731.40" x2="535.87" y2="731.40" stroke-width="1.4"/>
<line x1="533.37" y1="740.70" x2="533.37" y2="754.30" stroke-width="1.4"/>
<line x1="530.87" y1="754.30" x2="535.87" y2="754.30" stroke-width="1.4"/>
<polyline fill="none" stroke-width="2.4" stroke-linejoin="round" points="370.00,881.25 375.00,873.75 381.67,889.50 386.67,873.75 393.34,808.80 405.01,790.70 428.35,771.30 533.37,740.70"/>
<circle cx="370.00" cy="881.25" r="3.0" stroke="none"/>
<circle cx="375.00" cy="873.75" r="3.0" stroke="none"/>
<circle cx="381.67" cy="889.50" r="3.0" stroke="none"/>
<circle cx="386.67" cy="873.75" r="3.0" stroke="none"/>
<circle cx="393.34" cy="808.80" r="3.0" stroke="none"/>
<circle cx="405.01" cy="790.70" r="3.0" stroke="none"/>
<circle cx="428.35" cy="771.30" r="3.0" stroke="none"/>
<circle cx="533.37" cy="740.70" r="3.0" stroke="none"/>
<line x1="649.80" y1="862.00" x2="649.80" y2="857.70" stroke-width="1.4"/>
<line x1="647.30" y1="857.70" x2="652.30" y2="857.70" stroke-width="1.4"/>
<line x1="656.47" y1="880.30" x2="656.47" y2="884.70" stroke-width="1.4"/>
<line x1="653.97" y1="884.70" x2="658.97" y2="884.70" stroke-width="1.4"/>
<line x1="668.14" y1="877.70" x2="668.14" y2="872.70" stroke-width="1.4"/>
<line x1="665.64" y1="872.70" x2="670.64" y2="872.70" stroke-width="1.4"/>
<line x1="668.14" y1="877.70" x2="668.14" y2="885.00" stroke-width="1.4"/>
<line x1="665.64" y1="885.00" x2="670.64" y2="885.00" stroke-width="1.4"/>
<line x1="679.81" y1="882.30" x2="679.81" y2="878.70" stroke-width="1.4"/>
<line x1="677.31" y1="878.70" x2="682.31" y2="878.70" stroke-width="1.4"/>
<line x1="679.81" y1="882.30" x2="679.81" y2="888.00" stroke-width="1.4"/>
<line x1="677.31" y1="888.00" x2="682.31" y2="888.00" stroke-width="1.4"/>
<line x1="808.17" y1="880.30" x2="808.17" y2="872.70" stroke-width="1.4"/>
<line x1="805.67" y1="872.70" x2="810.67" y2="872.70" stroke-width="1.4"/>
<line x1="808.17" y1="880.30" x2="808.17" y2="891.00" stroke-width="1.4"/>
<line x1="805.67" y1="891.00" x2="810.67" y2="891.00" stroke-width="1.4"/>
<polyline fill="none" stroke-width="2.4" stroke-linejoin="round" points="644.80,891.00 649.80,862.00 656.47,880.30 661.47,865.50 668.14,877.70 679.81,882.30 703.14,878.75 808.17,880.30"/>
<rect x="642.40" y="888.60" width="4.8" height="4.8" stroke="none"/>
<rect x="647.40" y="859.60" width="4.8" height="4.8" stroke="none"/>
<rect x="654.07" y="877.90" width="4.8" height="4.8" stroke="none"/>
<rect x="659.07" y="863.10" width="4.8" height="4.8" stroke="none"/>
<rect x="665.74" y="875.30" width="4.8" height="4.8" stroke="none"/>
<rect x="677.41" y="879.90" width="4.8" height="4.8" stroke="none"/>
<rect x="700.75" y="876.35" width="4.8" height="4.8" stroke="none"/>
<rect x="805.77" y="877.90" width="4.8" height="4.8" stroke="none"/>
<line x1="656.47" y1="862.30" x2="656.47" y2="856.30" stroke-width="1.4"/>
<line x1="653.97" y1="856.30" x2="658.97" y2="856.30" stroke-width="1.4"/>
<line x1="668.14" y1="808.80" x2="668.14" y2="801.80" stroke-width="1.4"/>
<line x1="665.64" y1="801.80" x2="670.64" y2="801.80" stroke-width="1.4"/>
<line x1="668.14" y1="808.80" x2="668.14" y2="817.70" stroke-width="1.4"/>
<line x1="665.64" y1="817.70" x2="670.64" y2="817.70" stroke-width="1.4"/>
<line x1="679.81" y1="820.20" x2="679.81" y2="818.50" stroke-width="1.4"/>
<line x1="677.31" y1="818.50" x2="682.31" y2="818.50" stroke-width="1.4"/>
<line x1="679.81" y1="820.20" x2="679.81" y2="822.00" stroke-width="1.4"/>
<line x1="677.31" y1="822.00" x2="682.31" y2="822.00" stroke-width="1.4"/>
<line x1="703.14" y1="825.60" x2="703.14" y2="818.80" stroke-width="1.4"/>
<line x1="700.64" y1="818.80" x2="705.64" y2="818.80" stroke-width="1.4"/>
<line x1="703.14" y1="825.60" x2="703.14" y2="834.10" stroke-width="1.4"/>
<line x1="700.64" y1="834.10" x2="705.64" y2="834.10" stroke-width="1.4"/>
<line x1="808.17" y1="855.00" x2="808.17" y2="852.50" stroke-width="1.4"/>
<line x1="805.67" y1="852.50" x2="810.67" y2="852.50" stroke-width="1.4"/>
<line x1="808.17" y1="855.00" x2="808.17" y2="858.00" stroke-width="1.4"/>
<line x1="805.67" y1="858.00" x2="810.67" y2="858.00" stroke-width="1.4"/>
<polyline fill="none" stroke-width="2.4" stroke-linejoin="round" points="644.80,891.00 649.80,864.30 656.47,862.30 661.47,865.00 668.14,808.80 679.81,820.20 703.14,825.60 808.17,855.00"/>
<circle cx="644.80" cy="891.00" r="3.0" stroke="none"/>
<circle cx="649.80" cy="864.30" r="3.0" stroke="none"/>
<circle cx="656.47" cy="862.30" r="3.0" stroke="none"/>
<circle cx="661.47" cy="865.00" r="3.0" stroke="none"/>
<circle cx="668.14" cy="808.80" r="3.0" stroke="none"/>
<circle cx="679.81" cy="820.20" r="3.0" stroke="none"/>
<circle cx="703.14" cy="825.60" r="3.0" stroke="none"/>
<circle cx="808.17" cy="855.00" r="3.0" stroke="none"/>
<rect x="677.10" y="817.70" width="5.2" height="5.2" stroke="none"/>
<rect x="805.40" y="852.40" width="5.2" height="5.2" stroke="none"/>
<line x1="849.5" y1="499" x2="875" y2="499" stroke-width="2.2"/>
<rect x="858.8" y="495.4" width="7.4" height="7.3" stroke="none"/>
<line x1="849.5" y1="514" x2="875" y2="514" stroke-width="2.2"/>
<circle cx="862.5" cy="514.2" r="4.0" stroke="none"/>
</g></svg>
<div style="left:80.85px;top:206.90px;font-size:10.7px;line-height:10.7px;transform:translateX(-100%);"><span style="display:inline-block;clip-path:polygon(0 0,100% 0,100% 7.31px,66.6% 7.31px,66.6% 100%,42% 100%,42% 7.31px,0 7.31px)">1</span></div>
<div style="left:80.85px;top:135.35px;font-size:10.7px;line-height:10.7px;transform:translateX(-100%);"><span style="display:inline-block;clip-path:polygon(0 0,100% 0,100% 7.31px,66.6% 7.31px,66.6% 100%,42% 100%,42% 7.31px,0 7.31px)">1</span>0</div>
<div style="left:80.85px;top:63.80px;font-size:10.7px;line-height:10.7px;transform:translateX(-100%);"><span style="display:inline-block;clip-path:polygon(0 0,100% 0,100% 7.31px,66.6% 7.31px,66.6% 100%,42% 100%,42% 7.31px,0 7.31px)">1</span>00</div>
<div style="left:197.20px;top:37.10px;font-size:19.7px;line-height:19.7px;">CD3</div>
<div style="left:355.25px;top:206.60px;font-size:10.7px;line-height:10.7px;transform:translateX(-100%);"><span style="display:inline-block;clip-path:polygon(0 0,100% 0,100% 7.31px,66.6% 7.31px,66.6% 100%,42% 100%,42% 7.31px,0 7.31px)">1</span></div>
<div style="left:355.25px;top:135.20px;font-size:10.7px;line-height:10.7px;transform:translateX(-100%);"><span style="display:inline-block;clip-path:polygon(0 0,100% 0,100% 7.31px,66.6% 7.31px,66.6% 100%,42% 100%,42% 7.31px,0 7.31px)">1</span>0</div>
<div style="left:355.25px;top:63.80px;font-size:10.7px;line-height:10.7px;transform:translateX(-100%);"><span style="display:inline-block;clip-path:polygon(0 0,100% 0,100% 7.31px,66.6% 7.31px,66.6% 100%,42% 100%,42% 7.31px,0 7.31px)">1</span>00</div>
<div style="left:478.10px;top:34.30px;font-size:19.7px;line-height:19.7px;">CD4</div>
<div style="left:629.45px;top:206.10px;font-size:10.7px;line-height:10.7px;transform:translateX(-100%);"><span style="display:inline-block;clip-path:polygon(0 0,100% 0,100% 7.31px,66.6% 7.31px,66.6% 100%,42% 100%,42% 7.31px,0 7.31px)">1</span></div>
<div style="left:629.45px;top:134.60px;font-size:10.7px;line-height:10.7px;transform:translateX(-100%);"><span style="display:inline-block;clip-path:polygon(0 0,100% 0,100% 7.31px,66.6% 7.31px,66.6% 100%,42% 100%,42% 7.31px,0 7.31px)">1</span>0</div>
<div style="left:629.45px;top:63.10px;font-size:10.7px;line-height:10.7px;transform:translateX(-100%);"><span style="display:inline-block;clip-path:polygon(0 0,100% 0,100% 7.31px,66.6% 7.31px,66.6% 100%,42% 100%,42% 7.31px,0 7.31px)">1</span>00</div>
<div style="left:752.20px;top:39.80px;font-size:19.7px;line-height:19.7px;">CD8</div>
<div style="left:83.65px;top:543.60px;font-size:10.7px;line-height:10.7px;transform:translateX(-100%);"><span style="display:inline-block;clip-path:polygon(0 0,100% 0,100% 7.31px,66.6% 7.31px,66.6% 100%,42% 100%,42% 7.31px,0 7.31px)">1</span></div>
<div style="left:83.65px;top:472.10px;font-size:10.7px;line-height:10.7px;transform:translateX(-100%);"><span style="display:inline-block;clip-path:polygon(0 0,100% 0,100% 7.31px,66.6% 7.31px,66.6% 100%,42% 100%,42% 7.31px,0 7.31px)">1</span>0</div>
<div style="left:83.65px;top:400.60px;font-size:10.7px;line-height:10.7px;transform:translateX(-100%);"><span style="display:inline-block;clip-path:polygon(0 0,100% 0,100% 7.31px,66.6% 7.31px,66.6% 100%,42% 100%,42% 7.31px,0 7.31px)">1</span>00</div>
<div style="left:194.10px;top:371.70px;font-size:19.7px;line-height:19.7px;">T-bet</div>
<div style="left:355.35px;top:545.30px;font-size:10.7px;line-height:10.7px;transform:translateX(-100%);"><span style="display:inline-block;clip-path:polygon(0 0,100% 0,100% 7.31px,66.6% 7.31px,66.6% 100%,42% 100%,42% 7.31px,0 7.31px)">1</span></div>
<div style="left:355.35px;top:473.90px;font-size:10.7px;line-height:10.7px;transform:translateX(-100%);"><span style="display:inline-block;clip-path:polygon(0 0,100% 0,100% 7.31px,66.6% 7.31px,66.6% 100%,42% 100%,42% 7.31px,0 7.31px)">1</span>0</div>
<div style="left:355.35px;top:402.50px;font-size:10.7px;line-height:10.7px;transform:translateX(-100%);"><span style="display:inline-block;clip-path:polygon(0 0,100% 0,100% 7.31px,66.6% 7.31px,66.6% 100%,42% 100%,42% 7.31px,0 7.31px)">1</span>00</div>
<div style="left:474.30px;top:373.50px;font-size:19.7px;line-height:19.7px;">Foxp3</div>
<div style="left:629.95px;top:545.40px;font-size:10.7px;line-height:10.7px;transform:translateX(-100%);"><span style="display:inline-block;clip-path:polygon(0 0,100% 0,100% 7.31px,66.6% 7.31px,66.6% 100%,42% 100%,42% 7.31px,0 7.31px)">1</span></div>
<div style="left:629.95px;top:474.00px;font-size:10.7px;line-height:10.7px;transform:translateX(-100%);"><span style="display:inline-block;clip-path:polygon(0 0,100% 0,100% 7.31px,66.6% 7.31px,66.6% 100%,42% 100%,42% 7.31px,0 7.31px)">1</span>0</div>
<div style="left:629.95px;top:402.60px;font-size:10.7px;line-height:10.7px;transform:translateX(-100%);"><span style="display:inline-block;clip-path:polygon(0 0,100% 0,100% 7.31px,66.6% 7.31px,66.6% 100%,42% 100%,42% 7.31px,0 7.31px)">1</span>00</div>
<div style="left:727.60px;top:372.60px;font-size:19.7px;line-height:19.7px;">ROR-<span style="font-family:Liberation Serif;font-style:italic;font-weight:normal">γ</span>t</div>
<div style="left:80.85px;top:884.40px;font-size:10.7px;line-height:10.7px;transform:translateX(-100%);"><span style="display:inline-block;clip-path:polygon(0 0,100% 0,100% 7.31px,66.6% 7.31px,66.6% 100%,42% 100%,42% 7.31px,0 7.31px)">1</span></div>
<div style="left:80.85px;top:812.90px;font-size:10.7px;line-height:10.7px;transform:translateX(-100%);"><span style="display:inline-block;clip-path:polygon(0 0,100% 0,100% 7.31px,66.6% 7.31px,66.6% 100%,42% 100%,42% 7.31px,0 7.31px)">1</span>0</div>
<div style="left:80.85px;top:741.40px;font-size:10.7px;line-height:10.7px;transform:translateX(-100%);"><span style="display:inline-block;clip-path:polygon(0 0,100% 0,100% 7.31px,66.6% 7.31px,66.6% 100%,42% 100%,42% 7.31px,0 7.31px)">1</span>00</div>
<div style="left:95.70px;top:934.90px;font-size:8.4px;line-height:8.4px;transform:translateX(-50%);">0</div>
<div style="left:112.37px;top:934.90px;font-size:8.4px;line-height:8.4px;transform:translateX(-50%);"><span style="display:inline-block;clip-path:polygon(0 0,100% 0,100% 5.54px,66.6% 5.54px,66.6% 100%,42% 100%,42% 5.54px,0 5.54px)">1</span>0</div>
<div style="left:129.04px;top:934.90px;font-size:8.4px;line-height:8.4px;transform:translateX(-50%);">20</div>
<div style="left:145.71px;top:934.90px;font-size:8.4px;line-height:8.4px;transform:translateX(-50%);">30</div>
<div style="left:162.38px;top:934.90px;font-size:8.4px;line-height:8.4px;transform:translateX(-50%);">40</div>
<div style="left:179.05px;top:934.90px;font-size:8.4px;line-height:8.4px;transform:translateX(-50%);">50</div>
<div style="left:195.72px;top:934.90px;font-size:8.4px;line-height:8.4px;transform:translateX(-50%);">60</div>
<div style="left:212.39px;top:934.90px;font-size:8.4px;line-height:8.4px;transform:translateX(-50%);">70</div>
<div style="left:229.06px;top:934.90px;font-size:8.4px;line-height:8.4px;transform:translateX(-50%);">80</div>
<div style="left:245.73px;top:934.90px;font-size:8.4px;line-height:8.4px;transform:translateX(-50%);">90</div>
<div style="left:262.40px;top:934.90px;font-size:8.4px;line-height:8.4px;transform:translateX(-50%);"><span style="display:inline-block;clip-path:polygon(0 0,100% 0,100% 5.54px,66.6% 5.54px,66.6% 100%,42% 100%,42% 5.54px,0 5.54px)">1</span>00</div>
<div style="left:169.50px;top:713.40px;font-size:19.7px;line-height:19.7px;">CD<span style="display:inline-block;clip-path:polygon(0 0,100% 0,100% 13.39px,66.6% 13.39px,66.6% 100%,42% 100%,42% 13.39px,0 13.39px)">1</span>9</div>
<div style="left:355.25px;top:874.40px;font-size:10.7px;line-height:10.7px;transform:translateX(-100%);"><span style="display:inline-block;clip-path:polygon(0 0,100% 0,100% 7.31px,66.6% 7.31px,66.6% 100%,42% 100%,42% 7.31px,0 7.31px)">1</span></div>
<div style="left:355.25px;top:806.85px;font-size:10.7px;line-height:10.7px;transform:translateX(-100%);"><span style="display:inline-block;clip-path:polygon(0 0,100% 0,100% 7.31px,66.6% 7.31px,66.6% 100%,42% 100%,42% 7.31px,0 7.31px)">1</span>0</div>
<div style="left:355.25px;top:739.30px;font-size:10.7px;line-height:10.7px;transform:translateX(-100%);"><span style="display:inline-block;clip-path:polygon(0 0,100% 0,100% 7.31px,66.6% 7.31px,66.6% 100%,42% 100%,42% 7.31px,0 7.31px)">1</span>00</div>
<div style="left:370.00px;top:935.10px;font-size:8.4px;line-height:8.4px;transform:translateX(-50%);">0</div>
<div style="left:386.67px;top:935.10px;font-size:8.4px;line-height:8.4px;transform:translateX(-50%);"><span style="display:inline-block;clip-path:polygon(0 0,100% 0,100% 5.54px,66.6% 5.54px,66.6% 100%,42% 100%,42% 5.54px,0 5.54px)">1</span>0</div>
<div style="left:403.34px;top:935.10px;font-size:8.4px;line-height:8.4px;transform:translateX(-50%);">20</div>
<div style="left:420.01px;top:935.10px;font-size:8.4px;line-height:8.4px;transform:translateX(-50%);">30</div>
<div style="left:436.68px;top:935.10px;font-size:8.4px;line-height:8.4px;transform:translateX(-50%);">40</div>
<div style="left:453.35px;top:935.10px;font-size:8.4px;line-height:8.4px;transform:translateX(-50%);">50</div>
<div style="left:470.02px;top:935.10px;font-size:8.4px;line-height:8.4px;transform:translateX(-50%);">60</div>
<div style="left:486.69px;top:935.10px;font-size:8.4px;line-height:8.4px;transform:translateX(-50%);">70</div>
<div style="left:503.36px;top:935.10px;font-size:8.4px;line-height:8.4px;transform:translateX(-50%);">80</div>
<div style="left:520.03px;top:935.10px;font-size:8.4px;line-height:8.4px;transform:translateX(-50%);">90</div>
<div style="left:536.70px;top:935.10px;font-size:8.4px;line-height:8.4px;transform:translateX(-50%);"><span style="display:inline-block;clip-path:polygon(0 0,100% 0,100% 5.54px,66.6% 5.54px,66.6% 100%,42% 100%,42% 5.54px,0 5.54px)">1</span>00</div>
<div style="left:451.00px;top:706.70px;font-size:19.7px;line-height:19.7px;">IgM</div>
<div style="left:630.05px;top:884.40px;font-size:10.7px;line-height:10.7px;transform:translateX(-100%);"><span style="display:inline-block;clip-path:polygon(0 0,100% 0,100% 7.31px,66.6% 7.31px,66.6% 100%,42% 100%,42% 7.31px,0 7.31px)">1</span></div>
<div style="left:630.05px;top:812.90px;font-size:10.7px;line-height:10.7px;transform:translateX(-100%);"><span style="display:inline-block;clip-path:polygon(0 0,100% 0,100% 7.31px,66.6% 7.31px,66.6% 100%,42% 100%,42% 7.31px,0 7.31px)">1</span>0</div>
<div style="left:630.05px;top:741.40px;font-size:10.7px;line-height:10.7px;transform:translateX(-100%);"><span style="display:inline-block;clip-path:polygon(0 0,100% 0,100% 7.31px,66.6% 7.31px,66.6% 100%,42% 100%,42% 7.31px,0 7.31px)">1</span>00</div>
<div style="left:644.80px;top:935.10px;font-size:8.4px;line-height:8.4px;transform:translateX(-50%);">0</div>
<div style="left:661.47px;top:935.10px;font-size:8.4px;line-height:8.4px;transform:translateX(-50%);"><span style="display:inline-block;clip-path:polygon(0 0,100% 0,100% 5.54px,66.6% 5.54px,66.6% 100%,42% 100%,42% 5.54px,0 5.54px)">1</span>0</div>
<div style="left:678.14px;top:935.10px;font-size:8.4px;line-height:8.4px;transform:translateX(-50%);">20</div>
<div style="left:694.81px;top:935.10px;font-size:8.4px;line-height:8.4px;transform:translateX(-50%);">30</div>
<div style="left:711.48px;top:935.10px;font-size:8.4px;line-height:8.4px;transform:translateX(-50%);">40</div>
<div style="left:728.15px;top:935.10px;font-size:8.4px;line-height:8.4px;transform:translateX(-50%);">50</div>
<div style="left:744.82px;top:935.10px;font-size:8.4px;line-height:8.4px;transform:translateX(-50%);">60</div>
<div style="left:761.49px;top:935.10px;font-size:8.4px;line-height:8.4px;transform:translateX(-50%);">70</div>
<div style="left:778.16px;top:935.10px;font-size:8.4px;line-height:8.4px;transform:translateX(-50%);">80</div>
<div style="left:794.83px;top:935.10px;font-size:8.4px;line-height:8.4px;transform:translateX(-50%);">90</div>
<div style="left:811.50px;top:935.10px;font-size:8.4px;line-height:8.4px;transform:translateX(-50%);"><span style="display:inline-block;clip-path:polygon(0 0,100% 0,100% 5.54px,66.6% 5.54px,66.6% 100%,42% 100%,42% 5.54px,0 5.54px)">1</span>00</div>
<div style="left:726.60px;top:709.80px;font-size:19.7px;line-height:19.7px;">CD<span style="display:inline-block;margin-right:-0.055em;clip-path:polygon(0 0,100% 0,100% 13.39px,66.6% 13.39px,66.6% 100%,42% 100%,42% 13.39px,0 13.39px)">1</span><span style="display:inline-block;clip-path:polygon(0 0,100% 0,100% 13.39px,66.6% 13.39px,66.6% 100%,42% 100%,42% 13.39px,0 13.39px)">1</span>b</div>
<div style="left:124.90px;top:44.41px;font-size:28px;line-height:28px;font-weight:normal;transform:translateX(-50%);-webkit-text-stroke:0.30px #000;">*</div>
<div style="left:136.60px;top:66.81px;font-size:28px;line-height:28px;font-weight:normal;transform:translateX(-50%);-webkit-text-stroke:0.30px #000;">*</div>
<div style="left:159.00px;top:80.91px;font-size:28px;line-height:28px;font-weight:normal;transform:translateX(-50%);-webkit-text-stroke:0.30px #000;">*</div>
<div style="left:259.20px;top:97.41px;font-size:28px;line-height:28px;font-weight:normal;transform:translateX(-50%);-webkit-text-stroke:0.30px #000;">*</div>
<div style="left:117.70px;top:143.81px;font-size:28px;line-height:28px;font-weight:normal;transform:translateX(-50%);-webkit-text-stroke:0.30px #000;">*</div>
<div style="left:393.30px;top:15.95px;font-size:27px;line-height:27px;font-weight:normal;transform:translateX(-50%);-webkit-text-stroke:0.29px #000;">*</div>
<div style="left:406.00px;top:35.25px;font-size:27px;line-height:27px;font-weight:normal;transform:translateX(-50%);-webkit-text-stroke:0.29px #000;">*</div>
<div style="left:429.30px;top:18.65px;font-size:27px;line-height:27px;font-weight:normal;transform:translateX(-50%);-webkit-text-stroke:0.29px #000;">*</div>
<div style="left:533.75px;top:99.95px;font-size:27px;line-height:27px;font-weight:normal;transform:translateX(-50%);-webkit-text-stroke:0.29px #000;">*</div>
<div style="left:373.80px;top:164.25px;font-size:27px;line-height:27px;font-weight:normal;transform:translateX(-50%);-webkit-text-stroke:0.29px #000;">*</div>
<div style="left:378.20px;top:126.95px;font-size:27px;line-height:27px;font-weight:normal;transform:translateX(-50%);-webkit-text-stroke:0.29px #000;">*</div>
<div style="left:382.00px;top:111.75px;font-size:27px;line-height:27px;font-weight:normal;transform:translateX(-50%);-webkit-text-stroke:0.29px #000;">*</div>
<div style="left:377.70px;top:205.92px;font-size:14.5px;line-height:14.5px;font-family:'Liberation Serif';font-weight:normal;transform:translateX(-50%);-webkit-text-stroke:0.3px #000;">θ</div>
<div style="left:383.90px;top:193.52px;font-size:14.5px;line-height:14.5px;font-family:'Liberation Serif';font-weight:normal;transform:translateX(-50%);-webkit-text-stroke:0.3px #000;">θ</div>
<div style="left:388.70px;top:177.32px;font-size:14.5px;line-height:14.5px;font-family:'Liberation Serif';font-weight:normal;transform:translateX(-50%);-webkit-text-stroke:0.3px #000;">θ</div>
<div style="left:667.10px;top:88.31px;font-size:28px;line-height:28px;font-weight:normal;transform:translateX(-50%);-webkit-text-stroke:0.30px #000;">*</div>
<div style="left:678.40px;top:111.41px;font-size:28px;line-height:28px;font-weight:normal;transform:translateX(-50%);-webkit-text-stroke:0.30px #000;">*</div>
<div style="left:702.00px;top:113.51px;font-size:28px;line-height:28px;font-weight:normal;transform:translateX(-50%);-webkit-text-stroke:0.30px #000;">*</div>
<div style="left:806.20px;top:122.81px;font-size:28px;line-height:28px;font-weight:normal;transform:translateX(-50%);-webkit-text-stroke:0.30px #000;">*</div>
<div style="left:121.50px;top:432.01px;font-size:28px;line-height:28px;font-weight:normal;transform:translateX(-50%);-webkit-text-stroke:0.30px #000;">*</div>
<div style="left:135.20px;top:448.91px;font-size:28px;line-height:28px;font-weight:normal;transform:translateX(-50%);-webkit-text-stroke:0.30px #000;">*</div>
<div style="left:157.10px;top:462.01px;font-size:28px;line-height:28px;font-weight:normal;transform:translateX(-50%);-webkit-text-stroke:0.30px #000;">*</div>
<div style="left:261.70px;top:481.41px;font-size:28px;line-height:28px;font-weight:normal;transform:translateX(-50%);-webkit-text-stroke:0.30px #000;">*</div>
<div style="left:369.20px;top:518.26px;font-size:23px;line-height:23px;font-weight:normal;transform:translateX(-50%);-webkit-text-stroke:0.25px #000;">*</div>
<div style="left:375.90px;top:498.36px;font-size:23px;line-height:23px;font-weight:normal;transform:translateX(-50%);-webkit-text-stroke:0.25px #000;">*</div>
<div style="left:385.10px;top:493.96px;font-size:23px;line-height:23px;font-weight:normal;transform:translateX(-50%);-webkit-text-stroke:0.25px #000;">*</div>
<div style="left:391.50px;top:472.06px;font-size:23px;line-height:23px;font-weight:normal;transform:translateX(-50%);-webkit-text-stroke:0.25px #000;">*</div>
<div style="left:403.80px;top:458.16px;font-size:23px;line-height:23px;font-weight:normal;transform:translateX(-50%);-webkit-text-stroke:0.25px #000;">*</div>
<div style="left:427.70px;top:457.76px;font-size:23px;line-height:23px;font-weight:normal;transform:translateX(-50%);-webkit-text-stroke:0.25px #000;">*</div>
<div style="left:533.60px;top:491.06px;font-size:23px;line-height:23px;font-weight:normal;transform:translateX(-50%);-webkit-text-stroke:0.25px #000;">*</div>
<div style="left:376.10px;top:540.52px;font-size:14.5px;line-height:14.5px;font-family:'Liberation Serif';font-weight:normal;transform:translateX(-50%);-webkit-text-stroke:0.3px #000;">θ</div>
<div style="left:387.20px;top:539.82px;font-size:14.5px;line-height:14.5px;font-family:'Liberation Serif';font-weight:normal;transform:translateX(-50%);-webkit-text-stroke:0.3px #000;">θ</div>
<div style="left:382.40px;top:552.42px;font-size:14.5px;line-height:14.5px;font-family:'Liberation Serif';font-weight:normal;transform:translateX(-50%);-webkit-text-stroke:0.3px #000;">θ</div>
<div style="left:668.50px;top:392.71px;font-size:28px;line-height:28px;font-weight:normal;transform:translateX(-50%);-webkit-text-stroke:0.30px #000;">*</div>
<div style="left:680.50px;top:437.61px;font-size:28px;line-height:28px;font-weight:normal;transform:translateX(-50%);-webkit-text-stroke:0.30px #000;">*</div>
<div style="left:703.00px;top:440.71px;font-size:28px;line-height:28px;font-weight:normal;transform:translateX(-50%);-webkit-text-stroke:0.30px #000;">*</div>
<div style="left:808.10px;top:468.31px;font-size:28px;line-height:28px;font-weight:normal;transform:translateX(-50%);-webkit-text-stroke:0.30px #000;">*</div>
<div style="left:117.70px;top:804.25px;font-size:22.5px;line-height:22.5px;font-weight:normal;transform:translateX(-50%);-webkit-text-stroke:0.24px #000;">*</div>
<div style="left:131.00px;top:793.75px;font-size:22.5px;line-height:22.5px;font-weight:normal;transform:translateX(-50%);-webkit-text-stroke:0.24px #000;">*</div>
<div style="left:154.40px;top:791.05px;font-size:22.5px;line-height:22.5px;font-weight:normal;transform:translateX(-50%);-webkit-text-stroke:0.24px #000;">*</div>
<div style="left:100.00px;top:832.27px;font-size:14.5px;line-height:14.5px;font-family:'Liberation Serif';font-weight:normal;transform:translateX(-50%);-webkit-text-stroke:0.3px #000;">θ</div>
<div style="left:392.90px;top:785.55px;font-size:22px;line-height:22px;font-weight:normal;transform:translateX(-50%);-webkit-text-stroke:0.24px #000;">*</div>
<div style="left:405.00px;top:755.65px;font-size:22px;line-height:22px;font-weight:normal;transform:translateX(-50%);-webkit-text-stroke:0.24px #000;">*</div>
<div style="left:427.20px;top:750.75px;font-size:22px;line-height:22px;font-weight:normal;transform:translateX(-50%);-webkit-text-stroke:0.24px #000;">*</div>
<div style="left:533.30px;top:715.85px;font-size:22px;line-height:22px;font-weight:normal;transform:translateX(-50%);-webkit-text-stroke:0.24px #000;">*</div>
<div style="left:648.70px;top:844.74px;font-size:21.5px;line-height:21.5px;font-weight:normal;transform:translateX(-50%);-webkit-text-stroke:0.23px #000;">*</div>
<div style="left:656.30px;top:845.64px;font-size:21.5px;line-height:21.5px;font-weight:normal;transform:translateX(-50%);-webkit-text-stroke:0.23px #000;">*</div>
<div style="left:659.70px;top:836.24px;font-size:21.5px;line-height:21.5px;font-weight:normal;transform:translateX(-50%);-webkit-text-stroke:0.23px #000;">*</div>
<div style="left:668.90px;top:788.94px;font-size:21.5px;line-height:21.5px;font-weight:normal;transform:translateX(-50%);-webkit-text-stroke:0.23px #000;">*</div>
<div style="left:680.10px;top:803.14px;font-size:21.5px;line-height:21.5px;font-weight:normal;transform:translateX(-50%);-webkit-text-stroke:0.23px #000;">*</div>
<div style="left:703.90px;top:801.24px;font-size:21.5px;line-height:21.5px;font-weight:normal;transform:translateX(-50%);-webkit-text-stroke:0.23px #000;">*</div>
<div style="left:808.00px;top:834.64px;font-size:21.5px;line-height:21.5px;font-weight:normal;transform:translateX(-50%);-webkit-text-stroke:0.23px #000;">*</div>
<div style="left:651.70px;top:883.32px;font-size:14.5px;line-height:14.5px;font-family:'Liberation Serif';font-weight:normal;transform:translateX(-50%);-webkit-text-stroke:0.3px #000;">θ</div>
<div style="left:662.00px;top:878.72px;font-size:14.5px;line-height:14.5px;font-family:'Liberation Serif';font-weight:normal;transform:translateX(-50%);-webkit-text-stroke:0.3px #000;">θ</div>
<div style="left:667.70px;top:887.72px;font-size:14.5px;line-height:14.5px;font-family:'Liberation Serif';font-weight:normal;transform:translateX(-50%);-webkit-text-stroke:0.3px #000;">θ</div>
<div style="left:877.20px;top:493.80px;font-size:11.8px;line-height:11.8px;">CFA</div>
<div style="left:877.00px;top:508.80px;font-size:11.8px;line-height:11.8px;">MOG</div>
<div style="left:33.10px;top:589.67px;font-size:20.58px;line-height:20.58px;transform-origin:0 17.43px;transform:rotate(-90deg);">Fold change over normal control</div>
<div style="left:282.30px;top:1019.90px;font-size:18.95px;line-height:18.95px;">Days post CFA/CFA-MOG injection</div>
</div></body></html>
